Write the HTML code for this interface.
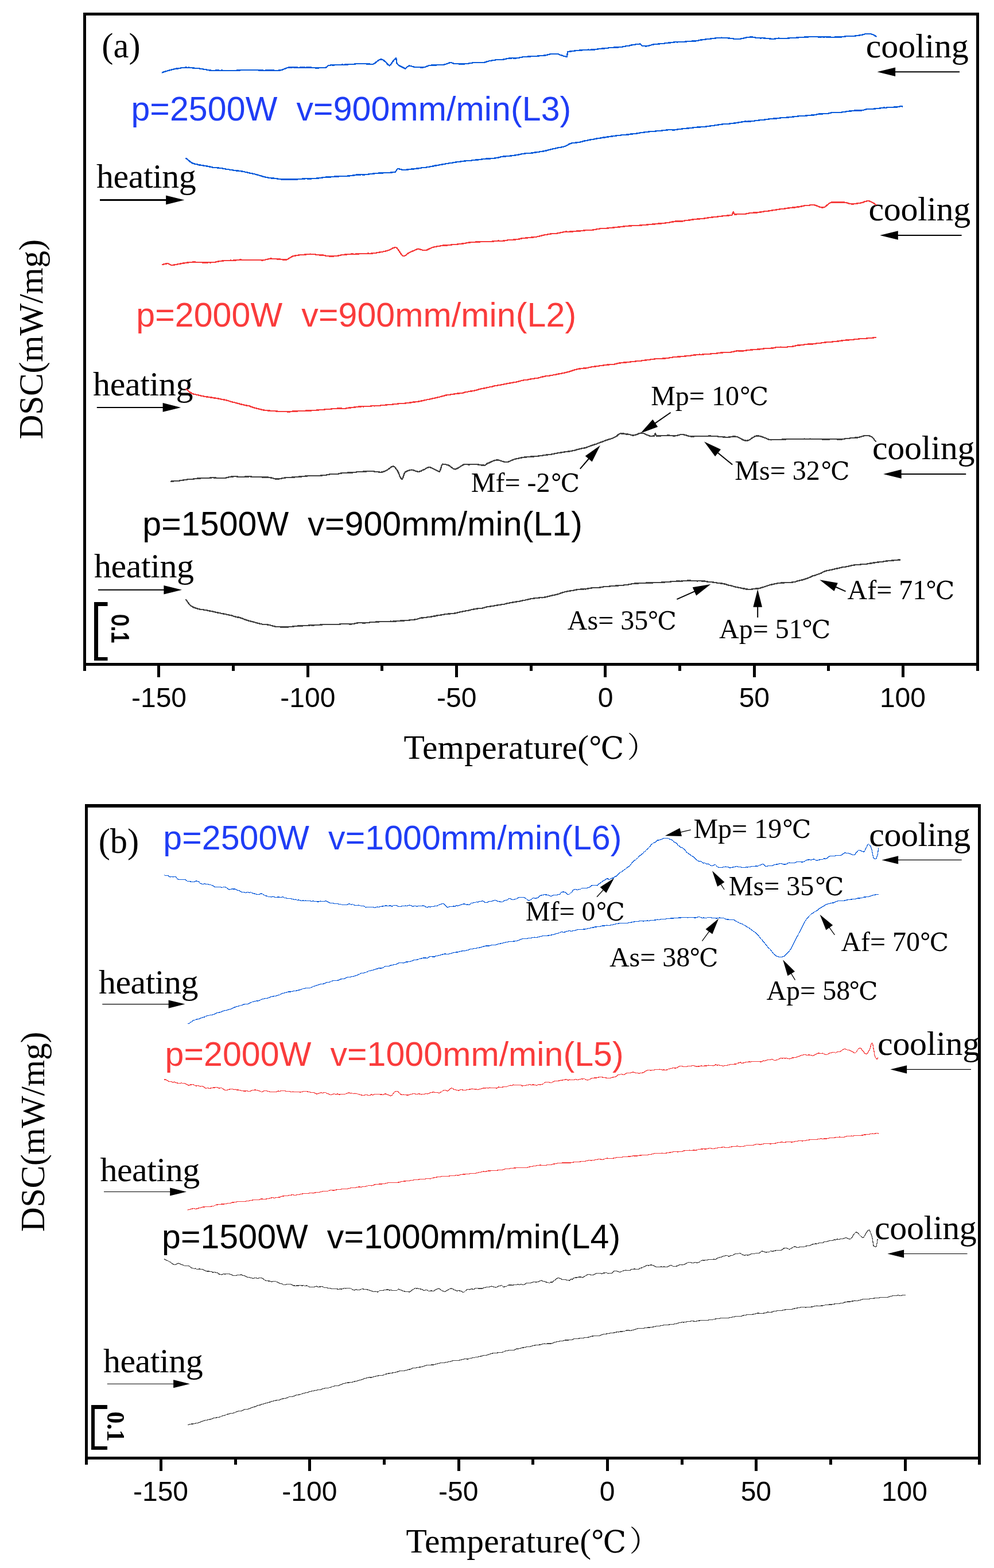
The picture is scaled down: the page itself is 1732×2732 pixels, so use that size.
<!DOCTYPE html>
<html lang="en">
<head>
<meta charset="utf-8">
<title>DSC curves</title>
<style>
html,body{margin:0;padding:0;background:#fff;}
body{width:1732px;height:2732px;overflow:hidden;}
svg{display:block;}
text{white-space:pre;}
</style>
</head>
<body>
<svg width="1732" height="2732" viewBox="0 0 1732 2732" role="img" aria-label="DSC curves">
<rect x="0" y="0" width="1732" height="2732" fill="#ffffff"/>
<path d="M145 22H1706V1160H145ZM150 27V1155H1701V27Z" fill="#000" fill-rule="evenodd"/>
<path d="M145 1159h5v10h-5ZM274 1159h5v21h-5ZM404 1159h5v10h-5ZM534 1159h5v21h-5ZM663 1159h5v10h-5ZM793 1159h5v21h-5ZM923 1159h5v10h-5ZM1052 1159h5v21h-5ZM1182 1159h5v10h-5ZM1312 1159h5v21h-5ZM1441 1159h5v10h-5ZM1571 1159h5v21h-5ZM1701 1159h5v10h-5Z" fill="#000"/>
<path d="M148 1401H1709V2543H148ZM153 1407V2538H1704V1407Z" fill="#000" fill-rule="evenodd"/>
<path d="M148 2542h5v10h-5ZM278 2542h5v21h-5ZM408 2542h5v10h-5ZM537 2542h5v21h-5ZM667 2542h5v10h-5ZM797 2542h5v21h-5ZM926 2542h5v10h-5ZM1056 2542h5v21h-5ZM1186 2542h5v10h-5ZM1315 2542h5v21h-5ZM1445 2542h5v10h-5ZM1575 2542h5v21h-5ZM1704 2542h5v10h-5Z" fill="#000"/>
<text fill="#000000" xml:space="preserve"><tspan x="177.31" y="100.1" style='font-family:"Liberation Serif", "Noto Serif CJK SC", serif;font-size:60.5px;letter-spacing:0.16px'>(a)</tspan></text>
<text fill="#1f3df5" xml:space="preserve"><tspan x="228.41" y="209.8" style='font-family:"Liberation Sans", "Noto Sans CJK SC", sans-serif;font-size:59px;letter-spacing:0.12px'>p=2500W  v=900mm/min(L3)</tspan></text>
<text fill="#fa3b3b" xml:space="preserve"><tspan x="237.21" y="569.4" style='font-family:"Liberation Sans", "Noto Sans CJK SC", sans-serif;font-size:59px;letter-spacing:0.12px'>p=2000W  v=900mm/min(L2)</tspan></text>
<text fill="#000000" xml:space="preserve"><tspan x="248.31" y="933.3" style='font-family:"Liberation Sans", "Noto Sans CJK SC", sans-serif;font-size:59px;letter-spacing:0.11px'>p=1500W  v=900mm/min(L1)</tspan></text>
<text fill="#000000" xml:space="preserve"><tspan x="168" y="327.1" style='font-family:"Liberation Serif", "Noto Serif CJK SC", serif;font-size:60px;letter-spacing:-0.46px'>heating</tspan></text>
<text fill="#000000" xml:space="preserve"><tspan x="162" y="689.1" style='font-family:"Liberation Serif", "Noto Serif CJK SC", serif;font-size:60px;letter-spacing:-0.36px'>heating</tspan></text>
<text fill="#000000" xml:space="preserve"><tspan x="163.9" y="1006.3" style='font-family:"Liberation Serif", "Noto Serif CJK SC", serif;font-size:60px;letter-spacing:-0.41px'>heating</tspan></text>
<text fill="#000000" xml:space="preserve"><tspan x="1508.83" y="100.3" style='font-family:"Liberation Serif", "Noto Serif CJK SC", serif;font-size:60px;letter-spacing:-0.16px'>cooling</tspan></text>
<text fill="#000000" xml:space="preserve"><tspan x="1513.53" y="384.4" style='font-family:"Liberation Serif", "Noto Serif CJK SC", serif;font-size:60px;letter-spacing:-0.38px'>cooling</tspan></text>
<text fill="#000000" xml:space="preserve"><tspan x="1519.92" y="800.4" style='font-family:"Liberation Serif", "Noto Serif CJK SC", serif;font-size:60px;letter-spacing:-0.23px'>cooling</tspan></text>
<text fill="#000000" xml:space="preserve"><tspan x="1134.15" y="706.2" style='font-family:"Liberation Serif", "Noto Serif CJK SC", serif;font-size:48px'>Mp= 10</tspan><tspan x="1288.06" y="706.2" style='font-family:"Liberation Serif", "DejaVu Math TeX Gyre", "DejaVu Serif", "Noto Serif CJK SC", serif;font-size:43.68px'>℃</tspan></text>
<text fill="#000000" xml:space="preserve"><tspan x="1280.35" y="835.8" style='font-family:"Liberation Serif", "Noto Serif CJK SC", serif;font-size:48px'>Ms= 32</tspan><tspan x="1429.46" y="835.8" style='font-family:"Liberation Serif", "DejaVu Math TeX Gyre", "DejaVu Serif", "Noto Serif CJK SC", serif;font-size:43.68px'>℃</tspan></text>
<text fill="#000000" xml:space="preserve"><tspan x="820.85" y="856.9" style='font-family:"Liberation Serif", "Noto Serif CJK SC", serif;font-size:48px'>Mf= -2</tspan><tspan x="959.06" y="856.9" style='font-family:"Liberation Serif", "DejaVu Math TeX Gyre", "DejaVu Serif", "Noto Serif CJK SC", serif;font-size:43.68px'>℃</tspan></text>
<text fill="#000000" xml:space="preserve"><tspan x="988.8" y="1097.2" style='font-family:"Liberation Serif", "Noto Serif CJK SC", serif;font-size:48px'>As= 35</tspan><tspan x="1127.66" y="1097.2" style='font-family:"Liberation Serif", "DejaVu Math TeX Gyre", "DejaVu Serif", "Noto Serif CJK SC", serif;font-size:43.68px'>℃</tspan></text>
<text fill="#000000" xml:space="preserve"><tspan x="1253.1" y="1111.8" style='font-family:"Liberation Serif", "Noto Serif CJK SC", serif;font-size:48px'>Ap= 51</tspan><tspan x="1396.26" y="1111.8" style='font-family:"Liberation Serif", "DejaVu Math TeX Gyre", "DejaVu Serif", "Noto Serif CJK SC", serif;font-size:43.68px'>℃</tspan></text>
<text fill="#000000" xml:space="preserve"><tspan x="1476.6" y="1044" style='font-family:"Liberation Serif", "Noto Serif CJK SC", serif;font-size:48px'>Af= 71</tspan><tspan x="1612.36" y="1044" style='font-family:"Liberation Serif", "DejaVu Math TeX Gyre", "DejaVu Serif", "Noto Serif CJK SC", serif;font-size:43.68px'>℃</tspan></text>
<text fill="#000000" xml:space="preserve"><tspan x="703.47" y="1322" style='font-family:"Liberation Serif", "Noto Serif CJK SC", serif;font-size:59.5px;letter-spacing:0.27px'>Temperature(</tspan><tspan x="1024.83" y="1322" style='font-family:"Liberation Serif", "DejaVu Math TeX Gyre", "DejaVu Serif", "Noto Serif CJK SC", serif;font-size:53.4px'>℃</tspan><tspan x="1092.74" y="1318.7" style='font-family:"Noto Serif CJK SC", "Liberation Serif", serif;font-size:50.5px'>）</tspan></text>
<text fill="#000000" xml:space="preserve"><tspan x="171.81" y="1485.8" style='font-family:"Liberation Serif", "Noto Serif CJK SC", serif;font-size:60.5px;letter-spacing:-0.13px'>(b)</tspan></text>
<text fill="#1f3df5" xml:space="preserve"><tspan x="284.31" y="1480.2" style='font-family:"Liberation Sans", "Noto Sans CJK SC", sans-serif;font-size:59px;letter-spacing:0.09px'>p=2500W  v=1000mm/min(L6)</tspan></text>
<text fill="#fa3b3b" xml:space="preserve"><tspan x="287.61" y="1856.5" style='font-family:"Liberation Sans", "Noto Sans CJK SC", sans-serif;font-size:59px;letter-spacing:0.09px'>p=2000W  v=1000mm/min(L5)</tspan></text>
<text fill="#000000" xml:space="preserve"><tspan x="282.01" y="2174.8" style='font-family:"Liberation Sans", "Noto Sans CJK SC", sans-serif;font-size:59px;letter-spacing:0.09px'>p=1500W  v=1000mm/min(L4)</tspan></text>
<text fill="#000000" xml:space="preserve"><tspan x="171.9" y="1731" style='font-family:"Liberation Serif", "Noto Serif CJK SC", serif;font-size:60px;letter-spacing:-0.49px'>heating</tspan></text>
<text fill="#000000" xml:space="preserve"><tspan x="174.4" y="2057.8" style='font-family:"Liberation Serif", "Noto Serif CJK SC", serif;font-size:60px;letter-spacing:-0.46px'>heating</tspan></text>
<text fill="#000000" xml:space="preserve"><tspan x="179.9" y="2391.4" style='font-family:"Liberation Serif", "Noto Serif CJK SC", serif;font-size:60px;letter-spacing:-0.46px'>heating</tspan></text>
<text fill="#000000" xml:space="preserve"><tspan x="1514.33" y="1473.6" style='font-family:"Liberation Serif", "Noto Serif CJK SC", serif;font-size:60px;letter-spacing:-0.49px'>cooling</tspan></text>
<text fill="#000000" xml:space="preserve"><tspan x="1529.12" y="1837.7" style='font-family:"Liberation Serif", "Noto Serif CJK SC", serif;font-size:60px;letter-spacing:-0.31px'>cooling</tspan></text>
<text fill="#000000" xml:space="preserve"><tspan x="1524.12" y="2159.2" style='font-family:"Liberation Serif", "Noto Serif CJK SC", serif;font-size:60px;letter-spacing:-0.38px'>cooling</tspan></text>
<text fill="#000000" xml:space="preserve"><tspan x="1208.45" y="1459.9" style='font-family:"Liberation Serif", "Noto Serif CJK SC", serif;font-size:48px'>Mp= 19</tspan><tspan x="1362.26" y="1459.9" style='font-family:"Liberation Serif", "DejaVu Math TeX Gyre", "DejaVu Serif", "Noto Serif CJK SC", serif;font-size:43.68px'>℃</tspan></text>
<text fill="#000000" xml:space="preserve"><tspan x="1269.85" y="1559.5" style='font-family:"Liberation Serif", "Noto Serif CJK SC", serif;font-size:48px'>Ms= 35</tspan><tspan x="1419.26" y="1559.5" style='font-family:"Liberation Serif", "DejaVu Math TeX Gyre", "DejaVu Serif", "Noto Serif CJK SC", serif;font-size:43.68px'>℃</tspan></text>
<text fill="#000000" xml:space="preserve"><tspan x="915.75" y="1603.7" style='font-family:"Liberation Serif", "Noto Serif CJK SC", serif;font-size:48px'>Mf= 0</tspan><tspan x="1037.66" y="1603.7" style='font-family:"Liberation Serif", "DejaVu Math TeX Gyre", "DejaVu Serif", "Noto Serif CJK SC", serif;font-size:43.68px'>℃</tspan></text>
<text fill="#000000" xml:space="preserve"><tspan x="1061.9" y="1683.8" style='font-family:"Liberation Serif", "Noto Serif CJK SC", serif;font-size:48px'>As= 38</tspan><tspan x="1200.46" y="1683.8" style='font-family:"Liberation Serif", "DejaVu Math TeX Gyre", "DejaVu Serif", "Noto Serif CJK SC", serif;font-size:43.68px'>℃</tspan></text>
<text fill="#000000" xml:space="preserve"><tspan x="1335.4" y="1741.7" style='font-family:"Liberation Serif", "Noto Serif CJK SC", serif;font-size:48px'>Ap= 58</tspan><tspan x="1478.56" y="1741.7" style='font-family:"Liberation Serif", "DejaVu Math TeX Gyre", "DejaVu Serif", "Noto Serif CJK SC", serif;font-size:43.68px'>℃</tspan></text>
<text fill="#000000" xml:space="preserve"><tspan x="1465.4" y="1656.5" style='font-family:"Liberation Serif", "Noto Serif CJK SC", serif;font-size:48px'>Af= 70</tspan><tspan x="1601.96" y="1656.5" style='font-family:"Liberation Serif", "DejaVu Math TeX Gyre", "DejaVu Serif", "Noto Serif CJK SC", serif;font-size:43.68px'>℃</tspan></text>
<text fill="#000000" xml:space="preserve"><tspan x="707.47" y="2705.3" style='font-family:"Liberation Serif", "Noto Serif CJK SC", serif;font-size:59.5px;letter-spacing:0.27px'>Temperature(</tspan><tspan x="1028.83" y="2705.3" style='font-family:"Liberation Serif", "DejaVu Math TeX Gyre", "DejaVu Serif", "Noto Serif CJK SC", serif;font-size:53.4px'>℃</tspan><tspan x="1096.74" y="2702" style='font-family:"Noto Serif CJK SC", "Liberation Serif", serif;font-size:50.5px'>）</tspan></text>
<text fill="#000" xml:space="preserve"><tspan x="228.98" y="1231.5" style='font-family:"Liberation Sans", "Noto Sans CJK SC", sans-serif;font-size:48px'>-150</tspan></text>
<text fill="#000" xml:space="preserve"><tspan x="488.31" y="1231.5" style='font-family:"Liberation Sans", "Noto Sans CJK SC", sans-serif;font-size:48px'>-100</tspan></text>
<text fill="#000" xml:space="preserve"><tspan x="760.99" y="1231.5" style='font-family:"Liberation Sans", "Noto Sans CJK SC", sans-serif;font-size:48px'>-50</tspan></text>
<text fill="#000" xml:space="preserve"><tspan x="1041.67" y="1231.5" style='font-family:"Liberation Sans", "Noto Sans CJK SC", sans-serif;font-size:48px'>0</tspan></text>
<text fill="#000" xml:space="preserve"><tspan x="1287.65" y="1231.5" style='font-family:"Liberation Sans", "Noto Sans CJK SC", sans-serif;font-size:48px'>50</tspan></text>
<text fill="#000" xml:space="preserve"><tspan x="1532.89" y="1231.5" style='font-family:"Liberation Sans", "Noto Sans CJK SC", sans-serif;font-size:48px'>100</tspan></text>
<text fill="#000" xml:space="preserve"><tspan x="231.98" y="2614.5" style='font-family:"Liberation Sans", "Noto Sans CJK SC", sans-serif;font-size:48px'>-150</tspan></text>
<text fill="#000" xml:space="preserve"><tspan x="491.31" y="2614.5" style='font-family:"Liberation Sans", "Noto Sans CJK SC", sans-serif;font-size:48px'>-100</tspan></text>
<text fill="#000" xml:space="preserve"><tspan x="763.99" y="2614.5" style='font-family:"Liberation Sans", "Noto Sans CJK SC", sans-serif;font-size:48px'>-50</tspan></text>
<text fill="#000" xml:space="preserve"><tspan x="1044.67" y="2614.5" style='font-family:"Liberation Sans", "Noto Sans CJK SC", sans-serif;font-size:48px'>0</tspan></text>
<text fill="#000" xml:space="preserve"><tspan x="1290.65" y="2614.5" style='font-family:"Liberation Sans", "Noto Sans CJK SC", sans-serif;font-size:48px'>50</tspan></text>
<text fill="#000" xml:space="preserve"><tspan x="1535.89" y="2614.5" style='font-family:"Liberation Sans", "Noto Sans CJK SC", sans-serif;font-size:48px'>100</tspan></text>
<text transform="translate(73.9 764.7) rotate(-90)" fill="#000" xml:space="preserve"><tspan x="-0.93" y="0" style='font-family:"Liberation Serif", "Noto Serif CJK SC", serif;font-size:59.5px;letter-spacing:-0.2px'>DSC(mW/mg)</tspan></text>
<text transform="translate(77 2145.3) rotate(-90)" fill="#000" xml:space="preserve"><tspan x="-0.93" y="0" style='font-family:"Liberation Serif", "Noto Serif CJK SC", serif;font-size:59.5px;letter-spacing:-0.2px'>DSC(mW/mg)</tspan></text>
<path d="M164 1049H187.5V1056H171V1145H187.5V1151H164Z" fill="#000"/>
<text transform="translate(193.9 1070.9) rotate(90) scale(0.8666 1)" fill="#000" stroke="#000" stroke-width="1.7" xml:space="preserve"><tspan x="-0.45" y="-0.85" style='font-family:"Liberation Sans", "Noto Sans CJK SC", sans-serif;font-size:41.6px;font-weight:normal'>0.1</tspan></text>
<path d="M159 2448H187V2455H165V2520H187V2526H159Z" fill="#000"/>
<text transform="translate(187 2460.8) rotate(90) scale(0.9352 1)" fill="#000" xml:space="preserve"><tspan x="-1.4" y="0" style='font-family:"Liberation Serif", "Noto Serif CJK SC", serif;font-size:44.8px;font-weight:bold'>0.1</tspan></text>
<path d="M174 348.4L290.1 348.4" stroke="#000" stroke-width="3" fill="none"/><path d="M321.4 348.4L289.1 356.4L289.1 340.4Z" fill="#000"/>
<path d="M168.8 709.9L284.6 709.9" stroke="#000" stroke-width="2" fill="none"/><path d="M315.2 709.9L283.6 717.7L283.6 702.1Z" fill="#000"/>
<path d="M170.9 1027.8L286.4 1027.8" stroke="#000" stroke-width="2" fill="none"/><path d="M317 1027.8L285.4 1035.6L285.4 1020Z" fill="#000"/>
<path d="M1672 125.2L1559.1 125.2" stroke="#000" stroke-width="2" fill="none"/><path d="M1528.5 125.2L1560.1 117.4L1560.1 133Z" fill="#000"/>
<path d="M1675.6 410L1563.8 410" stroke="#000" stroke-width="2" fill="none"/><path d="M1533.2 410L1564.8 402.2L1564.8 417.8Z" fill="#000"/>
<path d="M1683.2 825.9L1569.7 825.9" stroke="#000" stroke-width="2" fill="none"/><path d="M1539.1 825.9L1570.7 818.1L1570.7 833.7Z" fill="#000"/>
<path d="M178.3 1749.6L294.6 1749.6" stroke="#000" stroke-width="1.15" fill="none"/><path d="M322.4 1749.6L293.6 1756.7L293.6 1742.5Z" fill="#000"/>
<path d="M181 2076.5L297.2 2076.5" stroke="#000" stroke-width="1.15" fill="none"/><path d="M325 2076.5L296.2 2083.6L296.2 2069.4Z" fill="#000"/>
<path d="M186.8 2411.2L303.1 2411.2" stroke="#000" stroke-width="1.15" fill="none"/><path d="M330.9 2411.2L302.1 2418.3L302.1 2404.1Z" fill="#000"/>
<path d="M1675.7 1498.4L1564.2 1498.4" stroke="#000" stroke-width="1.15" fill="none"/><path d="M1536.4 1498.4L1565.2 1491.3L1565.2 1505.5Z" fill="#000"/>
<path d="M1692 1863.3L1579.1 1863.3" stroke="#000" stroke-width="1.15" fill="none"/><path d="M1551.3 1863.3L1580.1 1856.2L1580.1 1870.4Z" fill="#000"/>
<path d="M1685.5 2184.5L1574.1 2184.5" stroke="#000" stroke-width="1.15" fill="none"/><path d="M1546.3 2184.5L1575.1 2177.4L1575.1 2191.6Z" fill="#000"/>
<path d="M1168.6 718.8L1140.93 737.81" stroke="#000" stroke-width="2" fill="none"/><path d="M1116.2 754.8L1137.33 730.82L1146.17 743.67Z" fill="#000"/>
<path d="M1010.8 816.9L1026.36 798.77" stroke="#000" stroke-width="2" fill="none"/><path d="M1045.9 776L1031.63 804.6L1019.79 794.45Z" fill="#000"/>
<path d="M1276.2 809.6L1250.25 788.45" stroke="#000" stroke-width="2" fill="none"/><path d="M1227 769.5L1255.96 783.04L1246.1 795.13Z" fill="#000"/>
<path d="M1179.4 1044.1L1210.89 1030.09" stroke="#000" stroke-width="2" fill="none"/><path d="M1238.3 1017.9L1213.15 1037.63L1206.81 1023.37Z" fill="#000"/>
<path d="M1320.2 1075.9L1320.2 1056.8" stroke="#000" stroke-width="2" fill="none"/><path d="M1320.2 1026.8L1328 1057.8L1312.4 1057.8Z" fill="#000"/>
<path d="M1473.5 1030.4L1455.71 1022.49" stroke="#000" stroke-width="2" fill="none"/><path d="M1428.3 1010.3L1459.79 1015.77L1453.46 1030.02Z" fill="#000"/>
<path d="M1203.7 1445.8L1185.29 1450.11" stroke="#000" stroke-width="1.3" fill="none"/><path d="M1158.8 1456.3L1184.6 1442.77L1187.92 1456.99Z" fill="#000"/>
<path d="M1262.1 1550L1255.72 1540.08" stroke="#000" stroke-width="1.3" fill="none"/><path d="M1241 1517.2L1262.4 1536.97L1250.12 1544.87Z" fill="#000"/>
<path d="M1040 1562.7L1051.68 1550.01" stroke="#000" stroke-width="1.3" fill="none"/><path d="M1070.1 1530L1056.37 1555.69L1045.63 1545.8Z" fill="#000"/>
<path d="M1223.4 1639.6L1236.04 1622.48" stroke="#000" stroke-width="1.3" fill="none"/><path d="M1252.2 1600.6L1241.32 1627.62L1229.58 1618.95Z" fill="#000"/>
<path d="M1385.5 1707.7L1378.22 1695.61" stroke="#000" stroke-width="1.3" fill="none"/><path d="M1364.2 1672.3L1384.99 1692.7L1372.48 1700.23Z" fill="#000"/>
<path d="M1454.4 1628.8L1444.65 1615.46" stroke="#000" stroke-width="1.3" fill="none"/><path d="M1428.6 1593.5L1451.13 1611.96L1439.35 1620.57Z" fill="#000"/>
<g fill="none" stroke-linejoin="round" stroke-linecap="butt" shape-rendering="crispEdges">
<path d="M281.89 126.58L285.55 125.34L289.22 124.13L292.89 123.16L296.38 122.19L299.87 121.33L303.37 120.45L306.64 119.64L309.91 119.49L313.19 118.99L316.46 118.21L319.74 117.97L323.01 117.53L326.29 117.77L329.56 117.67L332.84 118.1L336.11 118.49L339.38 118.73L342.66 119.12L345.93 119.08L349.21 119.72L352.48 120.25L355.76 120.89L358.9 121.31L362.04 122.17L365.19 122.38L368.33 122.79L371.47 122.93L374.53 122.73L377.59 122.6L380.64 122.53L383.7 122.84L386.75 122.54L389.81 122.98L392.87 123.03L395.92 123L398.98 123.22L402.03 123.1L405.09 123.24L408.15 123.19L411.42 122.8L414.7 122.33L417.97 122.37L421.24 122.07L424.52 121.93L427.79 122.05L431.07 121.99L434.34 122.06L437.62 121.98L440.89 122.13L444.17 122.07L447.44 122.23L450.71 122.33L453.99 122.57L457.26 122.68L460.54 122.76L463.81 122.67L467.09 122.66L470.36 122.64L473.63 122.61L476.91 122.64L480.18 122.92L483.46 122.9L486.73 122.52L489.79 122.15L492.86 121.23L495.92 120.05L498.98 118.77L502.05 117.68L505.11 117.34L508.11 117.36L511.11 117.26L514.11 117.54L517.11 117.59L520.11 117.73L523.11 117.69L526.11 117.49L529.11 117.48L532.11 117.77L535.11 117.5L538.11 117.69L541.11 117.46L544.11 117.87L547.11 117.93L550.11 118.54L553.11 118.63L556.11 118.22L559.11 118.27L562.11 117.89L565.11 117.75L568.11 117.68L571.51 114.3L574.58 113.78L577.64 113.24L580.71 113.53L583.77 113.24L586.84 113.26L589.9 113.21L592.97 113.13L596.03 112.59L599.1 112.83L602.16 112.33L605.19 112.59L608.22 112.19L611.24 112.12L614.27 111.9L617.3 111.72L620.32 111.29L623.35 111.09L626.38 110.71L629.41 110.73L632.81 110.77L636.22 111.23L639.62 111.37L643.03 111.5L646.43 111.94L649.84 111.83L653.24 110.26L656.65 107.16L659.49 105.29L662.32 103.62L665.16 103.4L668.57 105.22L671.97 108.1L674.24 110.59L676.51 113.03L678.78 114.5L681.05 112.31L683.32 108.66L685.6 105.78L687.81 102.96L690.02 101.03L690.59 103.8L691.16 108.18L691.72 110.95L694.79 113.87L697.85 115.44L700.92 116.96L706.03 119.49L709.43 116.69L712.84 114.39L717.1 115.37L721.35 116.62L724.76 117L728.16 117.24L731.57 117.29L734.97 117.49L738.38 117.32L741.78 116.45L745.19 114.92L748.6 113.89L752 113.66L755.41 113.52L758.81 113.62L762.22 113.19L765.62 113.07L769.03 112.95L772.43 112.76L775.84 112.02L779.24 110.89L782.65 109.65L786.05 108.93L789.46 110.62L792.87 110.83L796.27 110.87L799.68 111.41L803.08 111.58L806.49 111.61L809.89 111.32L813.3 111.2L816.7 110.51L820.11 109.98L823.51 109.42L826.92 108.92L830.33 108.93L833.73 108.88L837.14 109.3L840.54 109.06L843.95 108.9L847.35 107.64L850.38 106.82L853.41 105.96L856.43 105.65L859.46 104.89L862.49 104.71L865.51 103.99L868.54 103.82L871.57 103.89L874.6 103.85L877.69 103.47L880.79 102.82L883.88 101.94L886.98 101.66L890.07 101.4L893.17 101.25L896.27 101.47L899.36 101.4L902.46 100.92L905.55 100.43L908.65 99.96L911.75 99.11L914.84 99.1L917.94 98.9L921.03 98.4L924.13 98.42L927.22 97.9L930.32 97.91L933.42 98.21L936.51 97.64L939.61 97.38L942.7 97.11L945.73 96.79L948.76 96.55L951.79 96.13L954.81 95.33L957.84 94.65L960.87 93.94L963.89 93.83L966.92 93.83L969.95 93.94L972.9 94.3L975.85 95.58L978.8 96.51L981.75 97.58L984.7 98.28L987.66 99.21L988.22 96.55L988.79 92.37L989.36 90.02L992.42 89.65L995.49 89.36L998.55 89.01L1001.62 88.51L1004.68 87.9L1007.75 87.82L1010.81 87.59L1013.88 87.43L1016.94 86.85L1020.01 86.94L1024.8 86.68L1027.89 86.77L1030.98 86.59L1034.08 86.71L1037.17 86.18L1040.26 85.66L1043.36 85.26L1046.45 84.97L1049.54 84.42L1052.64 84.39L1055.73 84.11L1058.82 83.7L1061.92 83.18L1065.01 83.09L1068.1 82.83L1071.2 82.39L1074.29 82.56L1077.38 82.44L1080.48 81.73L1083.57 81.73L1086.66 81.19L1089.76 80.66L1092.85 79.96L1096.09 79.76L1099.33 78.74L1102.57 78.1L1105.81 77.86L1109.05 77.11L1112.29 76.82L1115.54 76.63L1118.94 80.22L1122 80.14L1125.06 80.38L1128.13 80.22L1131.19 79.4L1134.25 78.59L1137.31 77.68L1140.38 77.27L1143.44 77.07L1146.5 76.72L1149.56 76.38L1152.66 75.99L1155.75 75.97L1158.84 75.27L1161.94 75.26L1165.03 74.57L1168.12 74.48L1171.22 74.06L1174.31 73.56L1177.4 73.18L1180.5 73.38L1183.59 72.97L1186.68 72.93L1189.78 72.84L1192.87 72.73L1195.96 72.38L1199.06 72.16L1202.15 71.96L1205.24 71.65L1208.34 71.69L1211.43 71.4L1214.52 71.19L1217.62 70.25L1220.67 69.58L1223.73 69.35L1226.78 68.96L1229.83 68.4L1232.89 68.04L1235.94 67.92L1238.99 67.45L1242.05 67.07L1245.1 66.8L1248.16 66.24L1251.21 66.02L1254.26 66.17L1257.32 65.66L1260.47 65.89L1263.62 65.98L1266.77 66.16L1269.92 66.45L1273.07 66.82L1276.22 67.15L1279.37 67.74L1282.52 67.87L1285.67 68.02L1288.91 68.04L1292.15 67.24L1295.39 66.73L1298.64 65.71L1301.88 65.08L1305.12 64.74L1308.36 64.58L1311.74 64.59L1315.11 65.29L1318.49 65.91L1321.87 66.12L1325.25 66.36L1328.62 66.28L1332 66.34L1335.14 66.84L1338.29 67.05L1341.43 67.42L1344.57 67.85L1347.72 67.88L1350.86 67.43L1354 66.9L1357.15 66.64L1360.29 67.1L1363.43 67.21L1366.58 67.24L1369.72 67.03L1372.86 66.51L1376.01 66.3L1379.15 66.21L1382.29 65.85L1385.44 65.81L1388.58 65.55L1391.72 65.41L1394.87 64.85L1398.01 65.1L1401.16 64.7L1404.3 64.41L1407.44 64.39L1410.59 64.18L1413.67 64.15L1416.75 63.86L1419.83 64.1L1422.91 64.11L1425.99 64.43L1429.08 64.66L1432.16 64.19L1435.24 64.66L1438.32 64.22L1441.4 64.58L1444.49 64.38L1447.57 64.67L1450.65 64.94L1453.73 64.74L1456.81 64.53L1459.89 64.62L1462.98 64.71L1466.12 64.37L1469.26 63.82L1472.41 63.58L1475.55 62.89L1478.69 63.02L1481.84 62.89L1484.98 63.22L1488.12 62.86L1491.27 62.4L1494.41 61.93L1497.47 61.59L1500.52 61.06L1503.58 60.36L1506.63 59.44L1509.69 58.86L1512.75 58.77L1516.68 58.94L1520.61 60.17L1523.88 61.79L1527.15 64.18" stroke="#0a5cda" stroke-width="2.4"/>
<path d="M323.32 275.14L326.04 277.37L328.77 279.62L331.49 281.83L334.22 283.7L336.94 284.81L340.14 285.78L343.34 286.38L346.55 287.35L349.75 287.61L352.95 288.16L356.15 288.86L359.35 289.29L362.55 289.93L365.76 290.53L369.03 291.27L372.31 291.96L375.58 292.04L378.85 292.48L382.13 292.69L385.4 293.04L388.68 293.61L391.95 294.37L395.23 294.93L398.5 295.26L401.77 296.13L405.05 296.24L408.32 296.9L411.6 297.37L414.87 297.63L418.15 297.85L421.42 298.47L424.7 299L427.97 299.92L431.24 300.64L434.52 301.36L437.79 302.08L441.07 302.72L444.34 303.46L447.25 304.23L450.16 304.91L453.07 306.09L455.98 306.82L458.89 307.67L461.81 308.54L464.72 309.07L467.63 309.68L470.54 309.99L473.81 310.53L477.09 310.52L480.36 311.18L483.63 311.38L486.91 312.12L490.18 312.37L493.46 312.61L496.73 312.65L499.76 312.7L502.78 312.53L505.81 312.58L508.83 312.71L511.85 312.69L514.88 312.39L517.9 312.56L520.93 311.85L523.95 311.84L526.98 311.6L530 311.32L534.38 311.3L538.77 311.53L541.92 311.54L545.07 310.95L548.22 311.1L551.37 310.63L554.52 310.58L557.67 310.08L560.82 309.62L563.97 309.06L567.13 308.66L570.28 308.51L573.43 308.63L576.58 308.42L579.73 307.79L582.88 307.69L586.03 307.59L589.18 307.38L592.33 307.26L595.48 307.09L598.63 307.12L601.78 306.79L604.93 306.7L608.08 306.56L611.23 306.14L614.39 305.71L617.54 305.33L620.69 304.65L623.84 304.51L626.99 304.48L630.14 304.25L633.29 304.45L636.44 304.3L639.59 304.2L642.74 303.41L645.89 303.09L649.04 302.75L652.19 302.43L655.27 302.05L658.34 301.82L661.41 301.46L664.48 301.66L667.55 301.31L670.63 301.18L673.7 300.74L676.77 300.93L679.84 300.69L682.91 300.47L685.99 300.08L689.06 299.43L691.04 296.42L693.03 293.7L696.71 294.58L700.4 295.67L703.47 295.94L706.54 295.84L709.62 295.46L712.69 295.26L715.76 294.78L718.83 294.33L721.9 294.37L724.97 293.72L728.05 293.38L731.12 293.27L734.19 292.45L737.26 292.03L740.25 291.95L743.23 291.52L746.22 290.92L749.2 290.5L752.19 289.85L755.17 289.39L758.16 288.48L761.14 288.31L764.13 287.69L767.11 287.17L770.1 286.6L773.08 286.05L776.07 285.4L779.05 284.91L782.04 284.63L785.02 283.82L788.01 283.73L790.99 282.97L793.98 282.55L796.98 282.18L799.98 281.8L802.98 281.42L805.98 281.08L808.98 280.64L811.98 280.27L814.98 280.13L817.98 279.98L820.98 279.69L823.99 279.17L826.99 278.91L829.99 278.35L832.99 278.42L835.99 278.03L838.99 277.64L841.99 277.18L844.99 276.84L847.99 276.58L850.99 276.56L854 276.46L857 276.08L860 275.85L863 275.56L866 274.85L868.98 274.5L871.97 273.59L874.95 272.83L877.94 272.5L880.92 272.44L883.91 271.94L886.89 271.95L889.88 271.44L892.86 271.23L895.85 270.74L898.83 270.34L901.82 269.74L904.8 269.42L907.79 268.63L910.77 268.01L913.76 267.59L916.74 267.26L919.73 267.29L922.71 267.01L925.7 266.53L928.68 266.32L931.67 265.61L934.65 265.41L937.64 264.94L940.62 264.36L943.61 263.92L946.59 263.51L949.58 262.77L952.56 262.31L955.55 261.37L958.53 260.7L961.52 259.8L964.5 259.19L967.49 258.59L970.47 258.06L973.46 257.11L976.44 256.85L979.43 256.21L982.26 255.68L985.1 254.58L987.93 253.35L990.77 251.57L993.6 250.26L996.44 249.43L999.49 249.01L1002.55 248.61L1005.6 248.35L1008.65 247.88L1011.71 247.37L1014.76 246.61L1017.82 245.65L1020.87 245.11L1023.92 244.57L1026.98 243.85L1030.03 243.16L1033.08 242.92L1036.14 242.23L1039.12 241.6L1042.11 241.17L1045.09 240.68L1048.08 240.26L1051.06 239.53L1054.05 239.41L1057.03 238.7L1060.02 238.52L1063 238.01L1065.99 237.44L1068.97 237.19L1071.96 236.79L1074.94 236.32L1077.93 235.83L1080.91 235.77L1083.9 235.08L1086.88 235.06L1089.87 234.81L1092.85 234.51L1095.83 234.29L1098.82 233.65L1101.8 233.45L1104.79 232.9L1107.77 232.7L1110.76 232.28L1113.74 231.69L1116.73 231.13L1119.71 230.91L1122.7 230.44L1125.68 229.93L1128.67 229.82L1131.65 229.32L1134.64 229.1L1137.62 229.29L1140.61 228.71L1143.59 228.36L1146.58 228.04L1149.56 227.98L1152.71 227.57L1155.86 227.26L1159.01 226.83L1162.17 226.51L1165.32 226.15L1168.47 226.06L1171.62 226.32L1174.77 226.39L1177.92 226.06L1181.07 225.4L1184.22 224.87L1187.37 224.71L1190.52 224.11L1193.67 223.96L1196.82 223.55L1199.97 223.42L1203.12 222.83L1206.28 222.76L1209.26 222.19L1212.24 222.01L1215.23 221.54L1218.21 221.43L1221.2 221.31L1224.18 221.11L1227.17 220.8L1230.15 220.61L1233.14 220.15L1236.12 219.78L1239.11 219.19L1242.09 219L1245.08 218.44L1248.06 218.04L1251.05 217.62L1254.03 217.13L1257.02 216.69L1260 216.33L1262.99 216.02L1265.97 216.01L1268.96 215.89L1271.94 215.35L1274.93 215.17L1277.91 214.67L1280.9 214.47L1283.88 213.78L1286.87 213.63L1289.85 212.96L1292.84 212.47L1295.82 211.92L1298.81 211.54L1301.79 211.83L1304.78 211.28L1307.76 211.4L1310.75 211.05L1313.73 210.84L1316.72 210.07L1319.7 209.99L1322.85 209.38L1326 209.18L1329.15 209.1L1332.3 208.42L1335.45 208.2L1338.6 207.68L1341.75 207.26L1344.91 207.12L1348.06 206.44L1351.21 206.54L1354.36 206.29L1357.51 205.8L1360.66 205.28L1363.81 205.25L1366.96 204.81L1370.11 204.71L1373.26 204.52L1376.41 204.18L1379.56 203.79L1382.71 203.46L1385.86 202.9L1389.02 202.72L1392.17 202.21L1395.32 202.14L1398.47 201.91L1401.62 201.85L1404.77 201.6L1407.92 201.07L1411.07 201.03L1414.22 200.52L1417.37 200.57L1420.52 200.08L1423.67 199.34L1426.82 198.6L1429.97 198.63L1433.13 198.39L1436.28 198.15L1439.43 198.13L1442.58 197.86L1445.73 197.02L1448.88 196.33L1452.03 196.2L1455.18 195.96L1458.33 195.87L1461.48 196.13L1464.63 196.01L1467.78 195.32L1470.93 194.92L1474.08 194.52L1477.23 193.97L1480.39 193.59L1483.54 193.37L1486.69 192.9L1489.84 192.55L1492.99 192.51L1496.14 192.58L1499.29 192.5L1502.44 192.25L1505.59 191.52L1508.74 190.51L1511.89 190.09L1515.04 189.91L1518.19 189.95L1521.34 189.77L1524.5 189.6L1527.65 189.01L1530.8 188.98L1533.95 188.45L1537.1 187.98L1540.25 187.62L1543.4 187.76L1546.55 187.27L1549.88 187.15L1553.21 186.7L1556.55 186.7L1559.88 186.68L1563.21 186.34L1566.54 185.93L1569.87 185.2L1573.2 185.45" stroke="#0a5cda" stroke-width="2.4"/>
<path d="M281.93 461.21L285.42 460.3L288.92 459.63L292.41 459.1L297.65 461.66L300.64 461.89L303.64 461.42L306.63 461.06L309.62 460.46L312.62 459.75L315.61 459.35L318.61 458.62L321.6 458.36L324.59 457.83L327.59 457.38L330.58 457.18L333.57 456.96L336.57 456.35L339.56 456.45L343.05 456.97L346.55 457L350.04 457.13L353.53 457.46L357.02 457.29L360.52 457.51L363.66 457.2L366.8 457.44L369.95 457.09L373.09 457.02L376.23 456.51L379.38 455.64L382.52 455.26L385.66 454.75L388.81 454.35L391.95 454.15L395.23 454.02L398.5 453.85L401.77 453.64L405.05 453.82L408.32 453.43L411.6 453.38L414.87 452.96L418.15 452.58L421.17 452.71L424.19 452.95L427.21 452.81L430.24 453.07L433.26 453.16L436.28 453.03L439.3 453.12L442.33 453.07L445.35 453.21L448.37 453.05L451.39 453.22L454.42 453.18L457.44 453.53L460.43 453.19L463.43 452.2L466.42 451.61L469.41 450.74L472.41 450.59L475.4 450.81L478.4 450.81L481.45 451.3L484.51 451.51L487.56 451.56L490.62 451.9L493.68 452.53L496.73 452.5L499.88 452.32L503.02 450.53L506.16 448.56L509.31 446.82L512.45 445.77L515.96 445.23L519.47 444.56L522.98 444.22L526.49 444L530 443.69L533.61 443.38L537.22 443.01L540.83 442.67L544.44 443.05L547.53 443.11L550.63 443.63L553.72 444.19L556.81 444.39L559.91 444.57L563 444.57L566.09 445.41L569.19 445.83L572.28 446.11L575.37 446.62L578.47 446.53L581.71 446.32L584.95 446.1L588.19 445.77L591.43 445.2L594.67 444.42L597.91 443.94L601.15 443.65L604.16 443.4L607.16 443.13L610.16 442.78L613.16 442.37L616.16 442.7L619.17 442.75L622.17 442.4L625.17 442.41L628.17 442.15L631.18 442.27L634.18 442.31L637.18 441.98L640.18 441.69L643.19 441.7L646.19 441.71L649.19 441.42L652.19 441.11L655.43 440.58L658.68 440.05L661.92 439.37L665.16 439.15L668.4 438.22L671.64 437.5L674.88 436.68L677.71 435.86L680.55 434.53L683.39 432.74L686.22 431.67L689.06 430.94L691.42 431.98L693.78 434.81L696.15 438.38L698.51 441.97L700.87 445.12L703.24 446.23L706.35 445.26L709.47 442.71L712.59 440.34L715.71 438.8L718.97 437.55L722.23 436.05L725.49 434.63L728.76 433.61L732.54 434.6L736.32 435.81L740.1 436.29L742.93 435.91L745.77 434.68L748.61 433.26L751.44 431.98L754.28 430.91L757.33 430.11L760.38 429.61L763.44 429.13L766.49 428.55L769.55 427.97L772.6 427.51L775.65 427.37L778.71 427.37L781.76 427.15L784.81 426.79L787.87 426.32L790.92 426.11L793.98 426.01L797.13 425.55L800.28 425.15L803.43 424.84L806.58 424.44L809.73 423.94L812.88 423.22L816.03 422.75L819.18 422.45L822.33 422L825.45 422.05L828.57 421.62L831.69 421.65L834.81 421.53L837.93 421.21L841.05 421.32L844.17 420.84L847.28 420.88L850.4 421.12L853.52 420.79L856.64 420.77L859.76 420.48L862.88 420.08L866 419.82L868.98 419.6L871.97 419.97L874.95 419.82L877.94 419.51L880.92 419.23L883.91 418.51L886.89 418.12L889.88 418.01L892.86 417.81L895.85 417.52L898.83 417.36L901.82 417.01L904.8 416.48L907.79 415.59L910.77 415.26L913.76 414.96L916.74 414.54L919.73 414.31L922.71 414.22L925.7 413.49L928.68 413.46L931.67 412.85L934.65 412.8L937.64 411.91L940.62 411.35L943.61 410.65L946.59 409.85L949.58 409.03L952.56 408.79L955.55 408.25L958.53 407.71L961.52 407.14L964.5 407.07L967.49 406.84L970.47 406.67L973.46 405.97L976.44 405.4L979.43 404.86L982.58 404.2L985.73 403.55L988.88 403.78L992.03 403.71L995.18 403.48L998.33 403.32L1001.48 403.25L1004.63 402.7L1007.78 402.35L1010.93 402.4L1014.08 401.97L1017.23 401.54L1020.38 401.3L1023.53 401.08L1026.69 401.31L1029.84 400.93L1032.99 400.64L1036.14 399.97L1039.29 399.42L1042.44 398.98L1045.59 398.28L1048.74 398.09L1051.89 397.97L1055.04 397.82L1058.19 397.61L1061.34 397.26L1064.49 397.2L1067.64 396.62L1070.8 396.29L1073.95 396.08L1077.1 395.5L1080.25 395.39L1083.4 394.74L1086.55 394.68L1089.7 394.08L1092.85 394.06L1096 393.48L1099.15 393.49L1102.3 393.19L1105.45 392.86L1108.6 392.92L1111.75 392.87L1114.9 392.61L1118.06 392.41L1121.21 392.12L1124.36 391.98L1127.51 391.52L1130.66 391.25L1133.81 391.15L1136.96 390.49L1140.11 390.46L1143.26 390.17L1146.41 389.57L1149.56 389.49L1152.55 389.31L1155.53 388.76L1158.52 388.7L1161.5 388.28L1164.49 388.02L1167.47 387.38L1170.46 386.63L1173.44 386.32L1176.43 385.64L1179.41 385.72L1182.4 385.42L1185.38 385.48L1188.37 385.53L1191.35 384.95L1194.34 384.24L1197.32 384.03L1200.31 383.49L1203.29 383.3L1206.28 382.55L1209.26 382.23L1212.24 382.01L1215.23 381.44L1218.21 381.53L1221.2 381.05L1224.18 380.98L1227.17 380.47L1230.15 380.11L1233.14 379.62L1236.12 378.94L1239.11 378.74L1242.09 378.51L1245.08 378L1248.06 377.84L1251.05 377.41L1254.03 376.77L1257.02 376.76L1260 376.24L1262.99 375.93L1266.11 375.71L1269.23 375.42L1272.35 375.23L1275.46 374.7L1277.73 369.19L1280 373.5L1283.06 373.42L1286.11 373.15L1289.16 373.26L1292.22 373.16L1295.27 373.01L1298.32 372.82L1301.38 372.2L1304.43 371.66L1307.49 371.04L1310.54 370.94L1313.59 370.38L1316.65 370.6L1319.7 370.31L1322.78 369.79L1325.85 369.45L1328.93 369L1332 368.21L1334.97 367.83L1337.94 367.79L1340.91 367.4L1343.88 366.66L1346.84 366.26L1349.81 365.87L1352.78 365.5L1355.75 365.01L1358.72 364.51L1361.69 363.97L1364.66 363.89L1367.63 363.41L1370.59 363.09L1373.56 362.52L1376.53 362.27L1379.53 361.76L1382.52 361.35L1385.51 361.37L1388.51 360.65L1391.5 360.59L1394.49 359.75L1397.49 359.46L1400.48 358.68L1403.48 357.87L1406.47 357.76L1409.46 357.79L1412.46 357.2L1415.45 357.18L1418.44 357.09L1421.59 358.07L1424.73 359.21L1427.87 360.37L1431.02 361.33L1434.16 361.55L1436.78 360.99L1439.4 358.99L1442.02 356.78L1444.64 354.63L1447.26 352.93L1449.88 352.43L1452.93 352.48L1455.99 352.51L1459.05 352.46L1462.1 352.62L1465.16 352.65L1468.21 352.55L1471.36 352.64L1474.5 353.22L1477.65 354.04L1480.79 354.95L1483.93 355.44L1487.08 355.41L1490.22 355.02L1493.36 354.55L1496.51 354.11L1499.65 353.63L1502.92 352.96L1506.2 351.52L1509.47 350.57L1512.75 349.95L1516.68 351.07L1520.61 353L1523.88 355.18L1527.15 357.58" stroke="#f53c3c" stroke-width="2.4"/>
<path d="M323.37 677.53L325.99 679.32L328.61 681.63L331.22 683.53L333.84 685.04L336.46 686.44L339.44 686.92L342.42 687.75L345.39 688.44L348.37 689.23L351.35 689.87L354.32 690.38L357.3 691.21L360.28 691.41L363.25 691.7L366.23 692.43L369.21 692.53L372.18 693.34L375.16 693.54L378.14 694.02L381.11 694.65L384.09 695.16L387.07 696.02L390.04 696.38L393.02 697.13L396 697.69L398.97 698.59L401.95 699.62L404.93 700.48L407.9 701L410.88 701.98L413.86 702.74L416.84 703.55L419.81 704.42L422.79 704.9L425.77 705.72L428.74 706.38L431.72 706.89L434.7 707.44L437.67 708.78L440.65 709.61L443.63 710.71L446.6 711.36L449.58 712.06L452.56 712.9L455.53 713.7L458.51 714.45L461.49 714.75L464.46 715.05L467.44 715.46L470.71 715.69L473.99 716.04L477.26 716.06L480.54 716.37L483.81 716.69L487.09 716.82L490.36 716.87L493.63 716.96L496.66 716.94L499.68 717.26L502.7 717.45L505.72 717.36L508.75 716.76L511.77 716.44L514.79 716.38L517.81 716.44L520.84 716.15L523.86 716.1L526.88 716.05L529.9 715.88L532.93 715.57L536.2 715.7L539.48 715.55L542.75 715.35L546.02 714.92L549.3 715.06L552.57 714.54L555.85 714.28L559.12 714.09L562.4 714.06L565.67 713.48L568.95 713.11L572.22 713.04L575.49 712.77L578.77 712.3L582.04 711.83L585.32 711.91L588.59 711.59L591.87 711.69L595.14 711.62L598.42 711.85L601.61 711.71L604.81 711.2L608.01 710.44L611.21 710.41L614.41 710.02L617.61 709.43L620.81 709.26L624.01 708.68L627.2 708.58L630.4 708.23L633.6 708.37L636.8 707.84L640 707.93L643.12 707.88L646.24 707.56L649.36 707.19L652.48 707.31L655.6 707.23L658.72 706.74L661.83 706.8L664.95 706.12L668.07 705.84L671.19 705.7L674.31 705.4L677.43 704.95L680.55 705.11L683.57 704.67L686.6 704.21L689.62 704.06L692.65 703.65L695.67 703.06L698.7 702.81L701.72 702.8L704.75 702.73L707.77 702.32L710.8 701.95L713.82 701.63L716.85 701.44L719.87 700.6L722.9 700.58L725.92 700.03L728.97 699.65L732.03 699.01L735.08 698.39L738.14 697.75L741.19 697.13L744.24 696.27L747.3 695.76L750.35 695.31L753.4 694.51L756.46 693.82L759.51 693.15L762.57 692.43L765.62 691.73L768.64 690.82L771.67 690.23L774.69 689.23L777.72 688.42L780.74 688.06L783.77 687.81L786.79 687.08L789.82 686.74L792.84 686.3L795.87 685.76L798.89 685.42L801.91 685.28L804.94 684.86L807.96 684.28L810.99 683.22L814.05 682.92L817.1 682.02L820.16 681.45L823.21 681.28L826.27 680.67L829.33 680.08L832.38 678.93L835.44 678.16L838.49 677.32L841.55 676.79L844.61 676.31L847.66 675.61L850.72 674.93L853.78 674.2L856.83 673.9L859.89 672.86L862.94 672.02L866 671.84L868.98 671.03L871.97 670.78L874.95 670.15L877.94 669.46L880.92 669.01L883.91 668.32L886.89 667.68L889.88 667.34L892.86 666.68L895.85 666.19L898.83 665.74L901.82 665.09L904.8 664.43L907.79 663.33L910.77 662.93L913.76 662.14L916.74 661.98L919.73 661.58L922.71 660.75L925.67 660.35L928.63 659.92L931.59 659.45L934.55 658.93L937.51 658.62L940.47 657.95L943.42 656.86L946.38 656.35L949.34 655.6L952.3 655.16L955.26 655.01L958.22 654.36L961.18 654.18L964.14 653.29L967.1 652.91L970.06 652.23L973.01 651.62L975.97 651.13L978.93 650.57L981.89 649.91L984.85 649.46L987.81 648.55L990.77 647.83L993.6 646.88L996.44 645.93L999.49 645L1002.55 643.98L1005.6 643.43L1008.65 642.62L1011.71 642.43L1014.76 641.81L1017.82 641.57L1020.87 641.44L1023.92 640.93L1026.98 640.08L1030.03 639.53L1033.08 638.85L1036.14 638.64L1039.12 638.28L1042.11 637.86L1045.09 637.23L1048.08 636.83L1051.06 636.59L1054.05 636.01L1057.03 635.74L1060.02 635.45L1063 635.18L1065.99 634.96L1068.97 634.85L1071.96 634.25L1074.94 633.49L1077.93 632.72L1080.91 632.51L1083.9 632.06L1086.88 631.67L1089.87 631.65L1092.85 631.18L1095.83 630.89L1098.82 630.42L1101.8 630.12L1104.79 629.93L1107.77 629.38L1110.76 629.16L1113.74 628.94L1116.73 628.86L1119.71 628.21L1122.7 627.74L1125.68 627.38L1128.67 627.2L1131.65 626.87L1134.64 626.08L1137.62 625.84L1140.61 625.49L1143.59 625.03L1146.58 624.86L1149.56 624.81L1152.71 624.78L1155.86 624.6L1159.01 624.4L1162.17 624.19L1165.32 623.65L1168.47 623.08L1171.62 622.68L1174.77 621.94L1177.92 621.85L1181.07 621.63L1184.22 621.49L1187.37 621.2L1190.52 620.92L1193.67 620.58L1196.82 620.25L1199.97 619.83L1203.12 619.76L1206.28 619L1209.43 618.54L1212.58 618.4L1215.73 617.9L1218.88 617.68L1222.03 617.76L1225.18 617.59L1228.33 617.17L1231.48 617.27L1234.63 617.01L1237.78 616.6L1240.93 616.13L1244.08 615.89L1247.23 615.9L1250.38 615.43L1253.54 614.98L1256.69 614.5L1259.84 614.32L1262.99 614.19L1266.14 613.95L1269.29 614.18L1272.44 613.84L1275.59 613.09L1278.74 612.59L1281.89 611.82L1285.04 611.26L1288.19 611.49L1291.34 611.47L1294.49 611.53L1297.65 610.86L1300.8 610.46L1303.95 610.02L1307.1 609.78L1310.25 609.34L1313.4 609.28L1316.55 609.12L1319.7 608.59L1322.85 608.66L1326 608.08L1329.15 607.63L1332.3 607.22L1335.45 606.94L1338.6 606.78L1341.75 606.74L1344.91 606.68L1348.06 606.37L1351.21 605.38L1354.36 604.78L1357.51 604.92L1360.66 604.67L1363.81 605.02L1366.96 604.74L1370.11 604.83L1373.26 604.13L1376.41 603.94L1379.4 603.77L1382.38 603.41L1385.37 602.63L1388.35 601.88L1391.34 601.4L1394.32 601.34L1397.31 601.12L1400.29 600.59L1403.28 599.9L1406.26 599.79L1409.25 599.54L1412.23 599.4L1415.22 599.45L1418.2 599.22L1421.19 598.82L1424.17 598.06L1427.16 597.98L1430.14 597.69L1433.13 596.9L1436.28 596.74L1439.43 596.43L1442.58 595.82L1445.73 595.91L1448.88 595.73L1452.03 595.22L1455.18 595.1L1458.33 594.66L1461.48 594.34L1464.63 593.73L1467.78 593.46L1470.93 593.05L1474.08 592.52L1477.23 592.52L1480.39 592.23L1483.54 591.78L1486.69 591.73L1489.84 591.14L1492.91 591.15L1495.98 590.52L1499.05 590.15L1502.13 589.73L1505.2 589.7L1508.27 589.76L1511.34 589.32L1514.41 589.08L1517.48 589.02L1520.56 588.67L1523.63 588.13L1526.7 587.54" stroke="#f53c3c" stroke-width="2.4"/>
<path d="M297.17 838.82L300.19 838.58L303.22 838.33L306.24 837.93L309.26 838.06L312.28 837.67L315.31 837.15L318.33 836.62L321.35 836.26L324.37 835.91L327.4 835.26L330.42 835.04L333.44 834.9L336.46 834.7L339.74 834.08L343.01 833.72L346.29 833.34L349.56 833.32L352.84 832.91L356.11 833.04L359.38 832.92L362.66 832.84L365.93 832.67L369.21 832.25L372.48 832.31L375.76 832.48L379.03 832.99L382.31 833.1L385.58 833.25L388.85 833.19L392.13 833.04L395.4 832.12L398.68 831.3L401.95 830.74L405.23 830.37L408.5 830.24L411.77 830.31L415.05 830.79L418.32 831L421.6 830.93L424.87 830.8L428.15 830.38L431.42 830.53L434.7 830.17L437.97 830.63L441.24 830.95L444.52 831.16L447.79 831.24L451.07 831.06L454.34 831.23L457.62 831.43L460.89 831.56L464.17 831.48L467.44 831.66L470.71 832.18L473.99 832.72L477.26 833.77L480.54 834.55L483.81 834.64L487.09 834.36L490.36 833.7L493.63 832.92L496.91 832.55L500.18 831.92L503.46 831.88L506.73 831.87L510.01 831.33L513.28 831.36L516.56 831.13L519.83 830.68L523.1 830.49L526.38 830.31L529.65 829.83L532.93 829.57L536.2 829.25L539.48 829.07L542.75 828.7L546.02 829.16L549.3 828.93L552.57 828.96L555.85 829L559.12 828.57L562.4 828.21L565.67 828.09L568.95 827.58L572.22 826.79L575.49 826.21L578.77 825.94L582.04 825.97L585.32 825.98L588.59 825.77L591.87 825.08L595.14 824.35L598.42 823.86L601.61 823.95L604.81 823.69L608.01 823.58L611.21 823.73L614.41 823.41L617.61 822.96L620.81 822.58L624.01 822L627.2 822.04L630.4 821.93L633.6 821.58L636.8 821.38L640 821.27L643.26 820.94L646.52 821.01L649.93 821.09L653.33 821.77L656.73 822.03L660.13 822.51L663.54 822.86L666.37 822.38L669.21 821.41L672.04 820.14L674.88 818.88L677.43 817.08L679.98 815L682.54 813.24L685.09 812.38L687.36 813.25L689.62 816.09L691.89 818.94L693.31 821.71L694.73 824.58L696.15 828.44L697.56 831.41L698.98 833.99L700.4 835.06L701.82 833.22L703.24 829.08L704.65 824.48L706.07 822.47L709.85 820.62L713.63 819.25L717.41 818.69L721.19 819.44L724.97 821.02L728.76 821.92L733.01 820.94L737.26 818.73L740.1 817.59L742.93 815.67L745.77 814.58L748.61 814.08L751.44 814.92L754.28 816.48L757.11 817.9L759.95 819.31L762.78 820.75L765.62 821.93L767.04 819.52L768.45 814.9L769.87 810.57L771.29 808.66L775.65 809.02L780 810.16L783.27 811.56L786.55 814.06L789.82 816.74L793.1 817.55L795.9 816.64L798.71 815.17L801.52 813.38L804.32 811.42L807.13 809.8L809.94 808.99L812.74 808.95L816.02 809.36L819.29 809.31L822.57 808.93L825.84 808.92L829.12 809.11L832.39 809.33L835.66 809.9L838.94 810.38L842.21 810.52L845.49 810.81L848.76 807.6L852.04 806.51L855.31 804.8L858.59 803.58L861.86 802.18L865.13 801.59L868.41 801.61L871.68 802.49L874.96 803.69L878.23 804.67L881.51 805.26L884.78 804.86L888.06 803.68L891.33 802.19L894.6 800.9L897.88 799.73L901.15 798.94L904.19 798.46L907.23 797.71L910.27 797.2L913.31 796.65L916.36 796.65L919.4 795.97L922.44 795.99L925.48 795.57L928.52 795.63L931.56 795.18L934.6 794.97L937.64 794.69L940.68 794.17L943.72 794.07L946.7 793.29L949.67 792.86L952.65 792.47L955.63 792.24L958.6 791.89L961.58 791.4L964.56 790.76L967.53 790.19L970.51 789.63L973.49 789.11L976.46 788.71L979.44 788.14L982.42 787.72L985.39 787.15L988.37 786.73L991.35 786.46L994.32 786.06L997.3 785.46L1000.28 785.01L1003.25 784.08L1006.23 783.16L1009.21 782.38L1012.18 781.75L1015.16 781.13L1018.14 780.58L1021.11 779.96L1024.09 778.65L1027.07 777.83L1030.04 776.51L1033.02 775.47L1036 774.47L1038.97 773.69L1041.95 772.32L1044.93 771.41L1047.9 770.1L1050.88 769.32L1053.86 767.94L1056.84 767.06L1059.81 765.86L1062.79 765L1065.77 764.2L1068.74 762.91L1071.72 761.37L1074.7 759.73L1077.97 756.68L1081.24 755.23L1084.52 755.45L1087.79 755.72L1091.07 756.42L1094.34 756.58L1097.62 757.23L1100.89 758.33L1104.17 758.49L1107.44 757.72L1110.71 756.61L1113.99 755.16L1117.26 754.58L1120.54 754.88L1123.81 756.07L1127.09 757.72L1130.36 758.86L1133.63 759.97L1136.91 759.71L1140.18 759.56L1141.82 755.41L1144.11 759.54L1147.31 759.36L1150.52 759.34L1153.72 759.26L1156.92 759.01L1160.12 759.01L1163.32 758.58L1166.52 758.65L1169.73 758.9L1172.93 759.48L1176.2 759.47L1179.48 758.96L1182.75 758.07L1186.02 757.11L1189.3 757.03L1192.57 757.48L1195.85 758.53L1199.12 759.56L1202.4 760.26L1205.67 760.55L1208.96 760.38L1212.25 759.95L1215.54 759.96L1218.84 760.03L1222.13 760.26L1225.42 760.09L1228.71 759.84L1232 759.8L1235.27 759.62L1238.55 759.65L1241.82 759.92L1245.1 760.05L1248.37 760.13L1251.65 760.59L1254.92 761.14L1258.2 761.22L1261.47 761.68L1264.74 761.73L1268.02 761.77L1271.29 761.58L1274.57 760.89L1277.84 760.58L1281.12 760.63L1284.39 761L1287.66 762.55L1290.94 764.34L1294.21 766.28L1297.49 767.29L1300.76 767.8L1303.76 767.36L1306.77 765.87L1309.77 763.58L1312.77 761.83L1315.77 760.12L1318.77 759.45L1321.84 759.56L1324.91 760.09L1327.98 761.08L1331.05 762.41L1334.12 763.3L1337.19 764.79L1340.26 766.05L1343.33 766.34L1346.41 766.22L1349.49 766.23L1352.57 765.98L1355.66 765.9L1358.74 765.7L1361.82 765.73L1364.9 765.32L1367.98 765.57L1371.07 765.15L1374.15 765.28L1377.23 765.3L1380.31 765.26L1383.39 765.15L1386.47 765.15L1389.56 765.04L1392.64 765.22L1395.72 764.96L1398.79 764.94L1401.86 764.66L1404.93 764.96L1408 765.03L1411.07 764.68L1414.14 764.75L1417.21 765L1420.28 764.88L1423.35 765.06L1426.42 764.87L1429.49 765.02L1432.56 765.32L1435.63 765.67L1438.7 765.7L1441.77 765.57L1444.84 765.42L1447.91 765.16L1450.98 765.18L1454.04 764.88L1457.11 765.17L1460.18 765.56L1463.25 765.39L1466.32 765.47L1469.39 765.03L1472.46 764.43L1475.53 763.95L1478.6 763.97L1481.67 763.36L1484.74 763.05L1487.81 762.94L1490.88 762.35L1493.95 762.57L1497.23 761.63L1500.5 760.88L1503.77 759.78L1507.05 759.07L1510.32 759.17L1513.6 759.25L1516.87 760.06L1519.33 761.58L1521.78 763.86L1524.24 767.21L1526.7 769.29" stroke="#424242" stroke-width="2.4"/>
<path d="M323.67 1044.1L325.5 1046.74L327.33 1049.53L329.17 1051.98L331 1054.15L332.84 1055.75L336.11 1057.59L339.38 1059.05L342.66 1059.97L345.93 1061.06L349.01 1061.83L352.1 1062.11L355.18 1062.4L358.26 1063.23L361.34 1063.37L364.42 1064.44L367.51 1064.76L370.59 1065.5L373.67 1066.18L376.75 1066.87L379.83 1067.61L382.91 1068.1L386 1068.91L389.08 1069.55L392.16 1069.82L395.24 1070.77L398.32 1071.4L401.3 1071.89L404.28 1072.67L407.25 1073.84L410.23 1074.6L413.21 1075.36L416.18 1075.63L419.16 1076.62L422.14 1077.58L425.11 1078.77L428.09 1080L431.07 1080.86L434.04 1081.84L437.02 1082.48L440 1083.36L442.97 1083.84L445.95 1084.99L448.93 1085.63L451.9 1086.49L454.88 1087.05L457.86 1087.93L460.83 1088.22L463.81 1088.22L467.09 1088.53L470.36 1089.13L473.63 1090.24L476.91 1091.09L480.18 1091.84L483.46 1091.94L486.73 1092.28L490.01 1092.35L493.28 1092.42L496.56 1092.45L499.83 1092.68L503.1 1092.33L506.38 1092.14L509.65 1091.65L512.93 1091.31L516.2 1091.08L519.48 1090.43L522.75 1090.47L526.02 1090.49L529.3 1090.18L532.37 1090.19L535.44 1089.91L538.51 1089.58L541.58 1089.26L544.65 1089.62L547.72 1089.29L550.79 1089.24L553.86 1089.03L556.93 1088.71L560 1088.56L563.07 1088.2L566.14 1087.97L569.21 1087.84L572.28 1088.04L575.35 1087.88L578.42 1087.75L581.61 1087.71L584.81 1088.11L588.01 1087.95L591.21 1087.75L594.41 1087.3L597.61 1087.08L600.81 1087.2L604.01 1087.31L607.2 1087.21L610.4 1087.68L613.6 1087.21L616.8 1086.95L620 1086.06L623.84 1085.23L626.99 1085.06L630.14 1085.3L633.29 1085.4L636.44 1085.35L639.59 1084.93L642.74 1084.73L645.89 1084.17L649.04 1084.32L652.19 1083.84L655.34 1083.66L658.5 1083.49L661.65 1083.27L664.8 1083.17L667.95 1083.24L671.1 1083.15L674.25 1083.07L677.4 1082.88L680.55 1082.64L683.6 1082.75L686.66 1082.29L689.71 1082.43L692.77 1081.98L695.82 1081.8L698.87 1081.5L701.93 1081.38L704.98 1081.31L708.03 1080.79L711.09 1080.92L714.14 1080.38L717.2 1080.13L720.25 1079.8L723.65 1079.45L727.05 1078.75L730.46 1077.44L733.86 1076.64L737.26 1076.5L740.25 1075.94L743.23 1075.76L746.22 1075.12L749.2 1074.92L752.19 1074.41L755.17 1073.67L758.16 1073.38L761.14 1072.4L764.13 1072.18L767.11 1071.72L770.1 1071.26L773.08 1070.61L776.07 1070.08L779.05 1069.85L782.04 1069.53L785.02 1069.29L788.01 1069.1L790.99 1068.79L793.98 1068.24L796.98 1067.58L799.98 1066.65L802.98 1066.15L805.98 1065.48L808.98 1065L811.98 1064.37L814.98 1063.84L817.98 1063.24L820.98 1062.36L823.99 1061.79L826.99 1061.29L829.99 1060.66L832.99 1060.25L835.99 1059.92L838.99 1059.92L841.99 1059.28L844.99 1058.4L847.99 1057.36L850.99 1057.11L854 1056.6L857 1056.2L860 1055.83L863 1055.02L866 1054.55L868.98 1054.23L871.97 1053.71L874.95 1053.17L877.94 1053.02L880.92 1051.98L883.91 1051.29L886.89 1050.87L889.88 1050.01L892.86 1049.67L895.85 1049.08L898.83 1048.63L901.82 1048.19L904.8 1047.73L907.79 1046.92L910.77 1046.39L913.76 1045.99L916.74 1045.21L919.73 1044.52L922.71 1043.89L925.82 1043.13L928.93 1042.77L932.03 1042.35L935.14 1041.88L938.25 1041.67L941.36 1041.18L944.46 1041.32L947.57 1040.81L950.68 1040.34L953.79 1039.52L956.89 1038.68L960 1038.02L963 1037.27L966 1036.9L969 1036.01L972.01 1035.18L975.01 1034.34L978.01 1033.22L981.01 1032.25L984.01 1031.37L987.01 1030.71L990.02 1029.91L993.02 1029.57L996.02 1029.12L999.13 1028.85L1002.24 1027.9L1005.35 1027.41L1008.46 1027.05L1011.57 1026.65L1014.68 1026.7L1017.79 1026.27L1020.9 1026.36L1024.01 1025.56L1027.13 1025.09L1030.24 1024.34L1033.35 1024.29L1036.46 1024.18L1039.57 1024.16L1042.68 1024.05L1045.79 1023.46L1048.9 1023.01L1052.01 1022.32L1055.12 1022.19L1058.23 1021.9L1061.35 1021.72L1064.47 1021.19L1067.59 1020.86L1070.71 1020.83L1073.82 1020.44L1076.94 1020.4L1080.06 1020.15L1083.18 1019.92L1086.3 1019.65L1089.42 1019.05L1092.54 1018.98L1095.65 1018.42L1098.77 1017.9L1101.89 1017.1L1105.01 1016.72L1108.13 1016.55L1111.25 1016.45L1114.36 1016.22L1117.48 1016.06L1120.6 1016.05L1123.72 1016.02L1126.79 1015.48L1129.86 1015.6L1132.93 1015.56L1136 1015.63L1139.07 1015.11L1142.14 1015.23L1145.21 1014.99L1148.28 1014.95L1151.35 1014.79L1154.42 1014.52L1157.49 1014.39L1160.56 1014.2L1163.63 1014.15L1166.7 1013.86L1169.77 1013.33L1172.84 1012.77L1176.11 1012.91L1179.38 1012.56L1182.66 1012.49L1185.93 1012.77L1189.21 1012.35L1192.48 1012.08L1195.76 1011.76L1199.03 1011.65L1202.31 1011.58L1205.58 1011.95L1208.85 1012.2L1212.13 1012.25L1215.4 1012.39L1218.68 1012.01L1221.95 1012.33L1225.23 1012.35L1228.5 1012.55L1231.77 1013.46L1235.05 1013.78L1238.32 1014.01L1241.6 1014.38L1244.87 1014.81L1248.15 1015.38L1251.42 1015.85L1254.7 1016.2L1257.97 1016.6L1261.24 1017.32L1264.52 1017.85L1267.79 1019.2L1271.07 1019.94L1274.34 1020.54L1277.62 1021.58L1280.89 1022.45L1284.17 1023.15L1287.44 1023.92L1290.71 1024.48L1293.99 1025.24L1297.26 1025.67L1300.54 1026.56L1303.81 1026.76L1307.09 1026.8L1310.36 1026.65L1313.63 1026.06L1316.91 1025.66L1320.18 1025.63L1323.46 1025L1326.73 1023.96L1330.01 1022.99L1333.28 1021.95L1336.56 1020.92L1339.83 1019.7L1343.1 1018.78L1346.38 1018.14L1349.65 1017.41L1352.93 1016.76L1356.2 1016.14L1359.48 1015.77L1362.75 1015.42L1366.02 1015.41L1369.3 1015.02L1372.57 1015.05L1375.85 1014.91L1379.12 1014.77L1382.4 1014.13L1385.67 1013.8L1388.95 1012.63L1392.22 1011.66L1395.49 1010.81L1398.77 1010.28L1402.04 1009.17L1405.32 1008.21L1408.12 1007.07L1410.93 1006.06L1413.74 1004.54L1416.54 1003.33L1419.35 1002.72L1422.16 1001.61L1424.96 1000.64L1427.92 999.72L1430.87 998.51L1433.83 996.92L1436.78 995.55L1439.84 994.55L1442.89 993.98L1445.95 993.37L1449.01 992.68L1452.06 992.1L1455.12 991.13L1458.17 990.61L1461.23 989.95L1464.29 989.14L1467.34 988.37L1470.4 987.85L1473.45 987.74L1476.45 987.01L1479.44 986.41L1482.44 985.71L1485.43 984.98L1488.42 984.5L1491.42 984.15L1494.41 984.11L1497.4 983.75L1500.4 983.42L1503.39 982.97L1506.38 982.92L1509.38 982.78L1512.37 982.12L1515.37 981.72L1518.35 981.5L1521.33 980.68L1524.32 980.41L1527.3 979.8L1530.28 979.43L1533.27 979.15L1536.25 978.91L1539.23 978.62L1542.22 977.73L1545.2 977.64L1548.18 977.05L1551.17 977.04L1554.15 976.55L1557.13 976.34L1560.12 976.08L1563.1 975.84L1566.08 975.55L1569.07 975.36" stroke="#424242" stroke-width="2.4"/>
<path d="M286.37 1524.76L288.84 1525.66L291.32 1525.34L293.8 1526.16L296.28 1528.14L298.76 1527.49L301.24 1527.95L303.72 1527.24L306.24 1527.7L308.76 1531.02L311.28 1532.39L313.79 1532.32L316.31 1532.79L318.83 1532.64L321.35 1532.21L323.87 1533.34L326.39 1535.35L328.91 1535.67L331.43 1535.89L333.94 1536.47L336.46 1536.37L338.98 1536.13L341.5 1534.95L344.02 1535.36L346.54 1536.26L349.06 1539.34L351.58 1540.04L354.1 1540.96L356.61 1539.41L359.13 1540.6L361.65 1540.4L364.17 1541.44L366.69 1541.29L369.21 1542.62L371.73 1543.29L374.25 1545.45L376.76 1545.84L379.28 1545.67L381.8 1545.73L384.32 1545.74L386.84 1546.54L389.36 1545.37L391.88 1545.29L394.4 1546.43L396.91 1548.6L399.43 1550L401.95 1549.45L404.47 1548.77L406.99 1549.06L409.51 1548.79L412.03 1550.44L414.55 1551.69L417.06 1551.91L419.58 1553.54L422.1 1554.59L424.62 1554.51L427.14 1555.38L429.66 1555.05L432.18 1554.46L434.7 1555.48L437.21 1554.5L439.73 1555.92L442.25 1556.92L444.77 1557.17L447.29 1558.3L449.81 1558.23L452.33 1558.27L454.85 1556.72L457.36 1557.44L459.88 1559.41L462.4 1560.81L464.92 1561.11L467.44 1562.18L469.96 1562.2L472.48 1562.95L475 1562.01L477.51 1562.39L480.03 1563.99L482.55 1563.18L485.07 1562.88L487.59 1563.25L490.11 1563.31L492.63 1562.73L495.15 1564.14L497.66 1564.34L500.18 1565.28L502.7 1565.75L505.22 1565.19L507.74 1566.08L510.26 1566.58L512.78 1567.42L515.3 1567.06L517.81 1568.55L520.33 1567.82L522.85 1568.83L525.37 1569.71L527.89 1568.86L530.41 1569.44L532.93 1569.07L535.45 1569.58L537.96 1569.55L540.48 1569.85L543 1570.48L545.52 1569.55L548.04 1570.96L550.56 1570.49L553.08 1571.13L555.6 1570.92L558.11 1570.09L560.63 1570.25L563.15 1570.77L565.67 1570.37L568.19 1569.64L570.71 1570.97L573.23 1572.5L575.75 1573.71L578.27 1573.75L580.78 1573.83L583.3 1574.3L585.82 1574.68L588.34 1574.53L590.86 1575.34L593.38 1575.32L595.9 1576.38L598.42 1576.79L601.01 1576.89L603.61 1576.66L606.21 1575.62L608.81 1574.41L611.41 1576.29L614.01 1575.48L616.61 1576.78L619.21 1577.29L621.81 1577.51L624.41 1577.06L627 1577.7L629.6 1578.51L632.2 1578.2L634.8 1579.03L637.4 1581.1L640 1580.07L643.05 1580.67L646.1 1580.88L649.15 1580.16L652.19 1581.49L654.77 1580.93L657.35 1580.11L659.93 1580.43L662.51 1579.86L665.08 1579.1L667.66 1579L670.24 1578.21L672.82 1578.02L675.39 1578.19L677.97 1578.14L680.55 1578.04L683.13 1579.13L685.71 1577.53L688.28 1577.24L690.86 1577.51L693.44 1579.01L696.02 1579.46L698.59 1579.37L701.17 1578.08L703.75 1578.85L706.33 1577.98L708.91 1578.39L711.48 1577.69L714.06 1577.01L716.64 1577.94L719.22 1579.5L721.8 1578.41L724.37 1578.69L726.95 1579.46L729.53 1578.25L732.11 1578.39L734.68 1578.78L737.26 1577.78L739.79 1578.74L742.32 1580.55L744.84 1580.97L747.37 1579.45L749.89 1580.48L752.42 1579.25L754.95 1579.25L757.47 1578.81L760 1578.78L762.62 1577.97L765.24 1576.27L767.86 1575.56L770.48 1574.75L773.1 1574.41L775.14 1576.85L777.19 1578.41L779.24 1581.29L781.28 1580.39L784.15 1579.62L787.01 1579.54L789.88 1578.85L792.74 1579.33L795.26 1577.62L797.78 1578.26L800.3 1577.42L802.82 1576.53L805.34 1575.79L807.86 1574.8L810.38 1575.13L812.89 1576.24L815.41 1576.07L817.93 1576.41L820.45 1573.5L822.97 1573.45L825.49 1572.53L828.01 1572.56L830.53 1571.24L833.04 1572.03L835.56 1570.24L838.08 1570.64L840.6 1569.5L843.12 1570.96L845.64 1572.58L848.16 1572.77L850.68 1571.27L853.19 1570.61L855.71 1570.54L858.23 1569.68L860.96 1568.82L863.69 1568.58L866.42 1570.03L869.15 1570.71L871.88 1571.12L874.6 1571.84L877.33 1570.28L880.06 1568.86L882.79 1568.65L885.52 1566.64L888.25 1565.35L890.98 1566.84L893.78 1567.62L896.59 1567.06L899.4 1566.34L902.2 1564.5L905.01 1563.64L907.82 1563.61L910.62 1563.67L913.24 1563.7L915.86 1565.04L918.48 1567.38L921.1 1569.1L923.72 1568.26L926.45 1566.44L929.18 1564.43L931.91 1565.2L934.63 1564.99L937.36 1564.59L940.09 1561.33L942.82 1560L945.55 1559.73L948.28 1558.75L951.01 1558.95L953.73 1559.27L956.46 1559.73L959.19 1561.65L961.92 1560.88L964.65 1559.69L967.38 1559.15L970.11 1559.32L972.84 1558.48L975.29 1558.46L977.75 1555.01L980.2 1554.1L982.66 1553.94L985.93 1555.27L989.21 1558.39L991.55 1558.54L993.89 1556.08L996.22 1554.89L998.56 1550.93L1000.9 1549.6L1003.24 1549.34L1005.58 1550.54L1008.31 1549.83L1011.04 1549.77L1013.77 1547.34L1016.49 1547.63L1019.22 1547.49L1021.95 1547.57L1024.68 1546.6L1027.41 1545.87L1030.14 1543.06L1032.87 1542.74L1035.59 1542.79L1038.32 1542.29L1040.66 1542.98L1043 1540.36L1045.34 1539.32L1047.68 1537.29L1050.02 1535.35L1052.36 1534.3L1054.7 1532.77L1057.03 1531.14L1059.37 1531.11L1061.71 1532.58L1064.05 1531.55L1066.39 1529.97L1068.73 1530.06L1071.07 1527.37L1073.41 1526.93L1075.75 1524.71L1078.08 1522.66L1080.42 1520.28L1082.76 1519.15L1085.1 1517.26L1087.44 1515.67L1089.49 1514.63L1091.53 1512.53L1093.58 1511.14L1095.63 1509.81L1097.67 1508.46L1099.72 1505.46L1101.76 1502.41L1103.81 1500.41L1105.86 1498.61L1107.9 1498.17L1109.95 1495.92L1112 1494.13L1114.04 1491.12L1116.09 1490.65L1118.14 1488.27L1120.18 1486.99L1122.23 1484.5L1124.28 1483L1126.32 1480.56L1128.37 1479.62L1130.42 1476.45L1132.46 1475.02L1134.51 1471.87L1136.56 1470.42L1138.74 1468.36L1140.92 1468.02L1143.1 1466.83L1145.29 1464.09L1147.47 1464.17L1149.65 1463.44L1152.93 1462.15L1156.2 1460.86L1159.48 1460.42L1162.1 1460.63L1164.72 1460.83L1167.33 1462.33L1169.95 1463.22L1172.57 1464.49L1174.76 1467.18L1176.94 1468.09L1179.12 1469.49L1181.31 1472.73L1183.49 1473.62L1185.67 1476.21L1187.72 1476.18L1189.76 1477.86L1191.81 1478.95L1193.86 1481.54L1195.9 1484.27L1197.95 1485.95L1200 1487.36L1202.04 1488.88L1204.38 1490.57L1206.72 1492L1209.06 1493.23L1211.4 1496.17L1213.74 1498.11L1216.08 1499.84L1218.42 1500.91L1220.87 1500.73L1223.33 1502.18L1225.78 1503.99L1228.24 1503.43L1230.97 1505.25L1233.7 1505.09L1236.42 1506.48L1239.15 1508.79L1241.88 1508.72L1244.61 1506.65L1246.96 1506.85L1249.3 1509.6L1251.65 1510.92L1254.19 1511.63L1256.74 1511.33L1259.29 1511.1L1261.83 1510.6L1264.38 1510.05L1266.93 1510.35L1269.47 1511.11L1272.02 1512.24L1274.57 1511.24L1277.11 1511.02L1279.66 1510.43L1282.21 1509.79L1284.75 1509.86L1287.3 1510.54L1289.85 1510.38L1292.39 1511.26L1294.94 1511.91L1297.49 1511.48L1300.01 1510.77L1302.53 1510.99L1305.04 1510.69L1307.56 1510.25L1310.08 1509.54L1312.6 1509.74L1315.12 1509.38L1317.64 1508.92L1320.16 1509.48L1322.68 1507.35L1325.19 1507.2L1327.71 1505.76L1330.23 1505.85L1333.51 1509.11L1336.19 1509.34L1338.86 1508.79L1341.54 1508.62L1344.22 1508.41L1346.9 1507.86L1349.58 1506.51L1352.26 1506.05L1354.94 1506.05L1357.62 1505.01L1360.3 1504.45L1362.98 1505.31L1365.49 1506.13L1368.01 1506.01L1370.53 1505.43L1373.05 1503.76L1375.57 1503.02L1378.09 1503.46L1380.61 1503.39L1383.13 1503.66L1385.64 1502.81L1388.16 1501.46L1390.68 1501.59L1393.2 1501.52L1395.72 1501.8L1398.24 1502.08L1400.76 1501.58L1403.28 1499.82L1405.79 1498.37L1408.31 1497.97L1410.83 1497.8L1413.35 1498.47L1415.87 1497.23L1418.39 1496.87L1420.91 1498.62L1423.43 1499.42L1425.94 1498.18L1428.46 1498.06L1430.98 1497.09L1433.5 1497.38L1436.02 1495.87L1438.54 1496.24L1441.06 1495.67L1443.58 1493.17L1446.1 1491.74L1448.61 1491.84L1451.13 1491.66L1453.65 1491.44L1456.17 1490.81L1458.69 1490.77L1461.21 1490.22L1463.94 1490.9L1466.66 1489.41L1469.39 1487.66L1472.12 1485.69L1474.85 1486.43L1477.58 1486.14L1480.04 1487.27L1482.49 1488.04L1484.95 1489.05L1487.4 1489.72L1489.37 1489.24L1491.33 1486.05L1493.3 1484.26L1495.26 1481.81L1497.23 1481.73L1499.95 1482.02L1502.68 1483.56L1505.41 1484.09L1507.05 1482.07L1508.69 1478.26L1510.32 1475.34L1511.96 1471.57L1513.6 1470.75L1515.24 1472.13L1516.87 1474.5L1518.51 1478.91L1519.06 1480.67L1519.6 1482.64L1520.15 1486.35L1520.69 1489.22L1521.24 1491.65L1521.78 1494.02L1523.75 1496.88L1525.71 1496.86L1526.61 1496.17L1527.51 1494.3L1528.41 1491.69L1529.31 1487.87L1529.64 1486.19L1529.97 1483.29L1530.3 1480.15L1530.62 1476.95" stroke="#0a5cda" stroke-width="1.25"/>
<path d="M327.3 1783.7L329.59 1783.12L331.88 1781.17L334.17 1779.86L336.46 1777.99L338.98 1777.55L341.5 1776.29L344.02 1775.84L346.54 1775.33L349.06 1773.98L351.58 1773.37L354.1 1772.33L356.61 1771.87L359.13 1770.3L361.65 1769.69L364.17 1769.3L366.69 1768.42L369.21 1768.23L371.73 1767.64L374.25 1766.6L376.76 1765.12L379.28 1764.53L381.8 1764.02L384.32 1763.76L386.84 1762.28L389.36 1761.48L391.88 1760.63L394.4 1760.26L396.91 1759.35L399.43 1758.77L401.95 1758.6L404.47 1756.93L406.99 1755.59L409.51 1754.86L412.03 1753.95L414.55 1753.15L417.06 1752.66L419.58 1751.8L422.1 1751.24L424.62 1749.99L427.14 1749.78L429.66 1749.72L432.18 1749.39L434.7 1747.95L437.21 1746.84L439.73 1745.61L442.25 1745.06L444.77 1744.49L447.29 1743.83L449.81 1744.05L452.33 1743.08L454.85 1741.54L457.36 1740.69L459.88 1740.48L462.4 1739.32L464.92 1739.35L467.44 1738.63L469.96 1737.73L472.48 1736.48L475 1736.2L477.51 1735.72L480.03 1735.83L482.55 1734.45L485.07 1733.72L487.59 1733.27L490.11 1731.67L492.63 1730.5L495.15 1730.19L497.66 1729.36L500.18 1728.81L502.7 1727.89L505.22 1728.05L507.74 1727.77L510.26 1727.09L512.78 1726.56L515.3 1726.38L517.81 1725.8L520.33 1725.19L522.85 1724.55L525.37 1723.86L527.89 1722.59L530.41 1722.56L532.93 1721.37L535.45 1721.23L537.96 1721.16L540.48 1721.25L543 1720.17L545.52 1718.66L548.04 1718.05L550.56 1717.27L553.08 1716.31L555.6 1715.57L558.11 1714.88L560.63 1714.81L563.15 1714.14L565.67 1713.75L568.19 1712.19L570.71 1711.36L573.23 1711.37L575.75 1710.53L578.27 1709.49L580.78 1708.31L583.3 1708.32L585.82 1708.47L588.34 1708.14L590.86 1707.64L593.38 1706.06L595.9 1705.66L598.42 1705.53L600.86 1705L603.31 1703.4L605.75 1702.47L608.2 1702.12L610.65 1702.46L613.09 1701.55L615.54 1701.25L617.98 1700.45L620.43 1699.89L622.88 1698.64L625.32 1697.86L627.77 1696.68L630.22 1695.12L632.66 1695.3L635.11 1694.91L637.55 1694.19L640 1693.11L642.53 1691.75L645.07 1691.46L647.6 1690.71L650.14 1690.06L652.67 1689.58L655.21 1688.28L657.74 1687.98L660.28 1686.76L662.81 1687.01L665.34 1686.89L667.88 1685.66L670.41 1684.04L672.95 1683.25L675.48 1683.39L678.02 1683.15L680.55 1682.06L683.02 1681.75L685.48 1680.98L687.95 1680.67L690.41 1680.25L692.88 1678.72L695.34 1677.77L697.81 1677.48L700.28 1677.78L702.74 1677.93L705.21 1677.04L707.67 1676.01L710.14 1676.16L712.6 1675.49L715.07 1675.12L717.54 1674.38L720 1673.01L722.47 1672.71L724.93 1672.37L727.4 1671.98L729.87 1671.05L732.33 1670.16L734.8 1670.01L737.26 1668.97L739.73 1669.15L742.19 1668.97L744.66 1669.33L747.13 1667.83L749.59 1666.63L752.06 1666.86L754.52 1666.9L756.99 1667.12L759.45 1665.58L761.92 1665.33L764.39 1664.68L766.85 1664.13L769.32 1663.22L771.78 1663.03L774.25 1662.03L776.71 1662.05L779.18 1662.61L781.65 1662.29L784.11 1661.34L786.58 1661.03L789.04 1660.17L791.51 1659.38L793.98 1659.14L796.46 1658.98L798.94 1658.85L801.43 1657.62L803.91 1657.15L806.39 1656.82L808.88 1656.94L811.36 1656.47L813.84 1655.42L816.33 1655.08L818.81 1653.86L821.29 1653.67L823.78 1653.26L826.26 1652.59L828.75 1652.51L831.23 1651.72L833.71 1651.23L836.2 1651.03L838.68 1650.14L841.16 1649.49L843.65 1648.84L846.13 1648.04L848.61 1647.99L851.1 1648L853.58 1647.84L856.07 1646.73L858.55 1646.16L861.03 1646.29L863.52 1646.19L866 1645.75L868.57 1644.48L871.14 1644.17L873.7 1643.7L876.27 1643.23L878.84 1642.29L881.41 1641.77L883.98 1641.29L886.55 1640.81L889.11 1640.62L891.68 1640.74L894.25 1640.13L896.71 1639.88L899.16 1639.72L901.62 1638.86L904.07 1638.18L906.53 1637.15L908.98 1636.2L911.44 1635.63L913.9 1635.6L916.35 1635.45L918.81 1635.3L921.26 1634.55L923.72 1634.79L926.24 1634.12L928.76 1633.59L931.28 1632.98L933.79 1633.3L936.31 1633.11L938.83 1632.5L941.35 1631.78L943.87 1631.08L946.39 1630.76L948.91 1630.16L951.43 1630.28L953.94 1630.15L956.46 1630.05L958.98 1629.29L961.5 1629.04L964.02 1628.42L966.54 1627.85L969.06 1626.97L971.58 1626.26L974.1 1625.43L976.61 1624.22L979.13 1623.56L981.65 1624.22L984.17 1624.08L986.69 1622.78L989.21 1622.28L991.73 1621.7L994.25 1622.21L996.76 1622.25L999.28 1621.63L1001.8 1621.46L1004.32 1620.38L1006.84 1619.35L1009.36 1619.44L1011.88 1619.32L1014.4 1619.41L1016.91 1619.08L1019.43 1619L1021.95 1618.4L1024.47 1617.85L1026.99 1617.85L1029.51 1616.56L1032.03 1616.13L1034.55 1615.93L1037.06 1614.92L1039.58 1614.89L1042.1 1614.33L1044.62 1614.57L1047.14 1613.73L1049.66 1612.86L1052.18 1612.97L1054.7 1612.82L1057.21 1611.98L1059.73 1612.45L1062.25 1612.45L1064.77 1611.45L1067.29 1611.27L1069.81 1610.39L1072.33 1610.04L1074.85 1609.54L1077.36 1609L1079.88 1608.79L1082.4 1608.49L1084.92 1608.57L1087.44 1608.45L1089.96 1608.31L1092.48 1608.35L1095 1608L1097.51 1607.25L1100.03 1607.06L1102.55 1606.27L1105.07 1605.98L1107.59 1605.51L1110.11 1605.35L1112.63 1605.42L1115.15 1604.32L1117.66 1604.18L1120.18 1604.94L1122.7 1604.84L1125.22 1604.63L1127.74 1604L1130.26 1604.37L1132.78 1603.93L1135.3 1603.48L1137.81 1603.53L1140.33 1603.01L1142.85 1602.97L1145.37 1602.02L1147.89 1602.37L1150.41 1602.01L1152.93 1601.17L1155.45 1601.25L1157.96 1601.14L1160.48 1601.13L1163 1600.27L1165.52 1600.56L1168.04 1600.08L1170.56 1600.12L1173.08 1600.04L1175.6 1599.58L1178.11 1599.21L1180.63 1599.41L1183.15 1598.9L1185.67 1599L1188.19 1598.75L1190.71 1598.78L1193.23 1598.88L1195.75 1598.42L1198.27 1598.92L1200.78 1598.43L1203.3 1598.23L1205.82 1598.75L1208.34 1598.75L1210.86 1599.16L1213.38 1598.79L1215.9 1597.95L1218.42 1597.4L1220.93 1598.38L1223.45 1599.4L1225.97 1599.03L1228.49 1599.24L1231.01 1599.32L1233.53 1598.54L1236.05 1598.26L1238.57 1598.56L1241.08 1599.39L1243.6 1599.26L1246.12 1599.69L1248.64 1600.05L1251.16 1599.8L1253.74 1598.92L1256.32 1599.32L1258.89 1599.26L1261.47 1599.63L1264.05 1601.16L1266.63 1602.02L1269.21 1601.84L1271.66 1602.55L1274.12 1602.95L1276.57 1602.28L1279.03 1602.85L1281.49 1604.49L1283.94 1606.02L1286.4 1606.91L1288.85 1608.55L1291.04 1609.31L1293.22 1609.97L1295.4 1611.21L1297.59 1612.32L1299.77 1613.49L1301.95 1615.11L1304.13 1616.05L1306.32 1617.87L1308.5 1619.3L1310.55 1620.88L1312.59 1622.48L1314.64 1623.8L1316.69 1625.34L1318.73 1627.34L1320.78 1629.28L1322.83 1631.66L1324.87 1634.48L1326.51 1636.49L1328.15 1637.89L1329.78 1640.33L1331.42 1642.16L1333.06 1644.08L1334.7 1646.02L1336.33 1648.25L1337.97 1650.19L1339.61 1651.86L1341.24 1653.11L1342.88 1654.98L1344.52 1657.31L1346.16 1659.45L1347.79 1661.93L1349.43 1663.23L1351.07 1664.94L1354.34 1666.5L1357.62 1667.35L1360.89 1667.69L1364.17 1666.89L1366.13 1666.1L1368.09 1664.52L1370.06 1662.63L1372.02 1660.47L1373.99 1658.34L1375.39 1656.83L1376.79 1655.08L1378.2 1653.04L1379.6 1650.75L1381 1647.8L1382.41 1644.64L1383.81 1642.1L1385.04 1639.53L1386.27 1636.68L1387.5 1634.32L1388.72 1631.92L1389.95 1630.38L1391.18 1627.59L1392.41 1625.29L1393.63 1623.18L1394.86 1620.41L1396.09 1618.17L1397.32 1615.69L1398.55 1613.47L1399.77 1610.78L1401 1608.47L1402.23 1606.2L1403.46 1604.49L1405.09 1602L1406.73 1599.66L1408.37 1598.12L1410.01 1596.01L1411.64 1594.49L1413.28 1592.73L1415.74 1591.42L1418.19 1589.44L1420.65 1588.24L1423.1 1586.87L1424.89 1585.46L1426.68 1583.96L1428.46 1582.31L1430.85 1581.36L1433.23 1579.65L1435.61 1578.6L1437.99 1576.8L1440.37 1575.62L1442.75 1574.78L1445.13 1574.29L1447.51 1573.66L1449.9 1573.08L1452.28 1572.99L1454.66 1571.74L1457.21 1570.77L1459.75 1569.92L1462.3 1569.73L1464.85 1569.41L1467.39 1569.59L1469.94 1569.51L1472.49 1568.9L1475.03 1568.13L1477.58 1567.79L1480.1 1567.47L1482.62 1567.08L1485.14 1566.85L1487.65 1566.82L1490.17 1566.39L1492.69 1565.54L1495.21 1564.95L1497.73 1564.97L1500.25 1564.81L1502.77 1564.14L1505.29 1562.93L1507.8 1563.15L1510.32 1562.48L1512.86 1562.51L1515.4 1561.56L1517.94 1560.73L1520.47 1559.92L1523.01 1559.3L1525.55 1558.9L1528.09 1558.56L1530.62 1558.81" stroke="#0a5cda" stroke-width="1.25"/>
<path d="M286.37 1881.12L288.84 1880.92L291.32 1882.37L293.8 1884.08L296.28 1884.65L298.76 1884.59L301.24 1886.01L303.72 1885.05L306.24 1886.47L308.76 1887L311.28 1887.43L313.79 1887.38L316.31 1886.69L318.83 1887.88L321.35 1887.37L323.87 1888.41L326.39 1890.13L328.91 1891.34L331.43 1890.08L333.94 1889.97L336.46 1889.45L338.98 1891L341.5 1892.06L344.02 1891.72L346.54 1891.85L349.06 1893.05L351.58 1892.41L354.1 1893.29L356.61 1895.01L359.13 1896.43L361.65 1895.2L364.17 1896.55L366.69 1896.08L369.21 1895.45L371.73 1894.99L374.26 1895L376.78 1894.19L379.31 1894.86L381.83 1896.07L384.36 1895.65L386.89 1895.89L389.41 1897.75L391.94 1899.12L394.46 1899.65L396.99 1898.94L399.57 1898.1L402.14 1897.64L404.72 1897.48L407.3 1898.45L409.88 1898.05L412.45 1899.01L415.03 1898.87L417.61 1899.43L420.19 1900.21L422.77 1900.76L425.34 1900.96L427.92 1900.99L430.5 1900.75L433.08 1901.34L435.66 1901.47L438.23 1900.24L440.81 1899.29L443.39 1899.13L445.97 1899.12L448.54 1899.8L451.12 1900.5L453.7 1901.35L456.28 1902.59L458.86 1901.15L461.43 1900.14L464.01 1900.53L466.59 1901.37L469.17 1902.01L471.74 1902.41L474.32 1902.38L476.9 1902.74L479.48 1902.73L482.06 1902.36L484.63 1900.9L487.21 1901.53L489.79 1900.57L492.37 1900.37L494.95 1900.76L497.52 1900.89L500.1 1901.61L502.68 1901.42L505.26 1901.93L507.83 1902.45L510.41 1902L512.99 1902.61L515.57 1902.13L518.15 1902.69L520.72 1902.7L523.3 1902.97L525.88 1902.56L528.46 1901.86L531.04 1901.59L533.61 1901.5L536.19 1902.06L538.77 1902.36L541.35 1903.19L543.92 1903.87L546.5 1903.24L549.08 1904.67L551.66 1905.96L554.24 1905.75L556.81 1904.5L559.39 1903.66L561.97 1904.5L564.55 1903.64L567.13 1903.57L569.7 1904.97L572.28 1905.9L574.86 1907.08L577.44 1907.69L580.01 1906.35L582.59 1905.77L585.17 1907L587.75 1905.85L590.33 1907.01L592.9 1907.01L595.48 1906.34L598.06 1906.83L600.64 1906.78L603.21 1905.4L605.79 1904.52L608.37 1903.88L610.95 1904.92L613.53 1904.82L616.1 1905.76L618.68 1905.1L621.26 1905.22L623.84 1906.39L626.42 1906.88L628.99 1907.88L631.57 1908.19L634.15 1908.76L636.73 1907.57L639.3 1907.76L641.88 1908.63L644.46 1908.5L647.04 1906.71L649.62 1907.93L652.19 1906.49L654.77 1906.81L657.35 1906.85L659.93 1906.66L662.51 1906.91L665.08 1907.05L667.66 1907.21L670.24 1906.09L672.82 1906.13L675.39 1907.2L677.97 1908.37L680.55 1909.58L682.82 1908.55L685.09 1905.73L687.36 1902.6L689.62 1901.2L691.89 1901.25L694.02 1902.51L696.15 1905.16L698.27 1906.84L700.4 1907.31L703.03 1907.07L705.67 1907.56L708.3 1907.9L710.93 1908.03L713.56 1907.4L716.2 1906.65L718.83 1905.89L721.46 1905.38L724.1 1906.05L726.73 1906.72L729.36 1905.85L732 1906.03L734.63 1906.91L737.26 1906.2L739.84 1906.21L742.42 1905.33L745 1906.04L747.57 1904.88L750.15 1903.76L752.73 1903.16L755.31 1902.76L757.89 1903.39L760.46 1903.44L763.04 1903.82L765.62 1904.88L767.89 1902.99L770.16 1901.91L772.42 1899.77L774.88 1899.21L777.34 1899.98L779.8 1901.24L782.25 1899.3L784.71 1897.11L787.17 1895.35L790.57 1898.18L793.98 1898.76L796.55 1899.45L799.13 1900.03L801.71 1898.85L804.29 1898.77L806.86 1899.16L809.44 1899.62L812.02 1899.3L814.6 1898.26L817.18 1898.14L819.75 1897.89L822.33 1896.94L824.9 1897.48L827.47 1898.07L830.04 1897.67L832.61 1898.75L835.18 1897.62L837.74 1897.28L840.31 1896.45L842.88 1895.78L845.45 1896.06L848.02 1895.01L850.59 1895.99L853.16 1895.04L855.73 1895.42L858.29 1895.3L860.86 1895.89L863.43 1895.84L866 1895.98L868.58 1893.98L871.16 1894.29L873.73 1894.35L876.31 1893.97L878.89 1893.22L881.47 1893.63L884.04 1893.04L886.62 1891.61L889.2 1891.01L891.78 1891.39L894.36 1890.01L896.93 1890.79L899.51 1890.3L902.09 1890.8L904.67 1890.72L907.25 1890.08L909.82 1892.1L912.4 1891.32L914.98 1891.94L917.56 1890.16L920.13 1890.95L922.71 1889.37L925.29 1890.43L927.87 1889.99L930.45 1890.07L933.02 1890.71L935.6 1891.23L938.18 1889.56L940.76 1890.09L943.34 1889.71L945.91 1889.02L948.49 1886.53L951.07 1885.27L953.65 1885.4L956.22 1885.62L958.8 1886.67L961.38 1886.54L963.96 1884.62L966.54 1883.72L969.11 1883.72L971.69 1883.32L974.27 1882.98L976.85 1882.1L979.43 1882.17L982 1881.57L984.58 1880.94L987.16 1880.84L989.74 1882.34L992.31 1880.99L994.89 1881.78L997.47 1881.74L1000.05 1881.59L1002.63 1880.27L1005.2 1881.44L1007.78 1881.38L1010.36 1880.49L1012.94 1879.81L1015.51 1880.02L1018.09 1879.28L1020.67 1881.26L1023.25 1881.97L1025.83 1881.63L1028.4 1880.29L1030.98 1878.62L1033.56 1878.29L1036.14 1877.98L1038.97 1878.09L1041.81 1877.18L1044.64 1876.74L1047.48 1876.49L1050.32 1877.05L1053.15 1877.28L1055.99 1878.03L1058.82 1878.42L1061.44 1878.85L1064.06 1878.29L1066.68 1877.16L1069.29 1876.78L1071.91 1876.33L1074.53 1875.08L1077.15 1872.66L1079.76 1872.54L1082.38 1871.47L1085 1872.27L1087.62 1872.48L1090.23 1870.52L1092.85 1869.67L1095.43 1869.72L1098.01 1869.78L1100.58 1868.23L1103.16 1868L1105.74 1868.9L1108.32 1869.59L1110.89 1869.31L1113.47 1870.18L1116.05 1869.5L1118.63 1869.16L1121.21 1868.81L1123.78 1867.07L1126.36 1865.49L1128.94 1864.43L1131.52 1864.22L1134.1 1865.37L1136.67 1864.14L1139.25 1864.7L1141.83 1863.1L1144.41 1863.77L1146.98 1863.39L1149.56 1863.07L1152.14 1863.74L1154.72 1864.22L1157.3 1863.93L1159.87 1864.58L1162.45 1863.9L1165.03 1862.47L1167.61 1861.94L1170.19 1861.52L1172.76 1860.5L1175.34 1860.91L1177.92 1861.03L1180.5 1859.97L1183.07 1858.17L1185.65 1857.22L1188.23 1857.41L1190.81 1858.29L1193.39 1858.16L1195.96 1858.61L1198.54 1857.79L1201.12 1857.72L1203.7 1857.71L1206.28 1856.69L1208.85 1856.73L1211.42 1857.59L1213.99 1858.25L1216.57 1857.98L1219.14 1857.91L1221.71 1856.74L1224.28 1857.47L1226.86 1857.18L1229.43 1856.96L1232 1857.04L1234.52 1855.9L1237.04 1856.62L1239.56 1856.53L1242.08 1856.97L1244.59 1856.52L1247.11 1854.85L1249.63 1856.27L1252.15 1855.55L1254.67 1856.28L1257.19 1856.53L1259.71 1857.54L1262.23 1856.56L1264.74 1856.49L1267.26 1856.09L1269.78 1855.54L1272.3 1854.73L1274.82 1854.58L1277.34 1854.64L1279.86 1853.89L1282.38 1854.07L1284.89 1852.31L1287.41 1851.97L1289.93 1850.67L1292.45 1852.77L1294.97 1851.96L1297.49 1851.61L1300.01 1850.42L1302.53 1850.49L1305.04 1849.97L1307.56 1850.24L1310.08 1849.6L1312.6 1849.45L1315.12 1849.2L1317.64 1849.88L1320.16 1849.31L1322.68 1849.66L1325.19 1850.16L1327.71 1849.72L1330.23 1848.09L1332.75 1848.41L1335.27 1847.23L1337.79 1846.55L1340.31 1846.34L1342.83 1846.31L1345.34 1845.38L1347.86 1846.93L1350.38 1847.88L1352.9 1846.91L1355.42 1846.38L1357.94 1844.64L1360.46 1843.35L1362.98 1844.05L1365.49 1843.74L1368.01 1844.04L1370.53 1843.48L1373.05 1844.74L1375.57 1844.91L1378.09 1844L1380.61 1843.1L1383.13 1842.84L1385.64 1842.36L1388.16 1841.9L1390.68 1840.95L1393.2 1840.16L1395.72 1838.75L1398.24 1838.48L1400.76 1837.53L1403.28 1837.39L1405.79 1838.38L1408.31 1838.05L1410.83 1838.06L1413.35 1838.61L1415.87 1839.27L1418.39 1838.82L1420.91 1837.26L1423.43 1835.92L1425.94 1834.98L1428.46 1835.2L1430.98 1835.75L1433.5 1834.89L1436.02 1836.64L1438.54 1837.24L1441.06 1837.55L1443.58 1836.02L1446.1 1834.82L1448.61 1834.15L1451.13 1833.61L1453.65 1833.49L1456.17 1834.47L1458.69 1832.92L1461.21 1832.67L1463.94 1832.72L1466.66 1830.27L1469.39 1828.68L1472.12 1827.37L1474.85 1828.59L1477.58 1829.55L1480.2 1829.76L1482.82 1831.19L1485.44 1832.3L1488.06 1834.51L1490.68 1834.47L1492.86 1832.1L1495.04 1827.97L1497.23 1826.22L1499.14 1826.07L1501.05 1827.48L1502.96 1830.75L1504.87 1832.41L1506.78 1835.5L1508.69 1836.21L1510.32 1836.45L1511.96 1834.58L1513.6 1831.57L1515.24 1828.73L1516.3 1826.14L1517.36 1821.54L1518.43 1818.11L1519.49 1817.33L1520.05 1816.96L1520.61 1818.52L1521.16 1822.25L1521.72 1824.56L1522.28 1828.72L1522.83 1831.08L1523.39 1835.18L1523.94 1838.02L1524.5 1840.3L1525.06 1841.95L1528.33 1845.8L1529.97 1842.66" stroke="#f53c3c" stroke-width="1.25"/>
<path d="M327.3 2108.08L329.91 2107.42L332.53 2106.58L335.15 2105.99L337.77 2105.48L340.39 2106.28L343.01 2106.06L345.63 2105.11L348.25 2104.64L350.87 2103.94L353.49 2102.95L356.11 2103.01L358.73 2102.52L361.35 2102.64L363.97 2102.35L366.59 2102.24L369.21 2101.81L371.73 2101.77L374.25 2100.36L376.76 2099.14L379.28 2099.11L381.8 2098.42L384.32 2098.16L386.84 2098.09L389.36 2098.01L391.88 2097.77L394.4 2097.31L396.91 2096.69L399.43 2096.22L401.95 2096.11L404.47 2095.11L406.99 2095.01L409.51 2094.64L412.03 2094.12L414.55 2093.69L417.06 2093.85L419.58 2093.2L422.1 2093.57L424.62 2093.34L427.14 2093.31L429.66 2092.63L432.18 2092.66L434.7 2092.02L437.21 2091.28L439.73 2091L442.25 2090.64L444.77 2090.88L447.29 2090.73L449.81 2090.54L452.33 2090.22L454.85 2088.97L457.36 2088.98L459.88 2089.48L462.4 2089.36L464.92 2088.82L467.44 2088.54L469.96 2088.01L472.48 2087.09L475 2086.68L477.51 2087.32L480.03 2086.89L482.55 2086.4L485.07 2086.14L487.59 2086.01L490.11 2084.68L492.63 2084.1L495.15 2083.92L497.66 2083.36L500.18 2083.41L502.7 2082.97L505.22 2082.58L507.74 2082.02L510.26 2081.8L512.78 2082.19L515.3 2082.25L517.81 2081.79L520.33 2081.57L522.85 2081.02L525.37 2080.37L527.89 2079.8L530.41 2079.53L532.93 2079.77L535.45 2079.57L537.96 2079.07L540.48 2078.57L543 2078.56L545.52 2079.06L548.04 2078.12L550.56 2077.74L553.08 2077.34L555.6 2077.32L558.11 2076.89L560.63 2076.45L563.15 2075.53L565.67 2075.82L568.19 2075.64L570.71 2075.53L573.23 2074.5L575.75 2073.77L578.27 2073.69L580.78 2074.08L583.3 2073.88L585.82 2073.05L588.34 2072.41L590.86 2072.34L593.38 2072.35L595.9 2071.78L598.42 2071.88L601.01 2071.13L603.61 2071.4L606.21 2071.1L608.81 2070.58L611.41 2069.54L614.01 2069.23L616.61 2069.59L619.21 2069.41L621.81 2068.76L624.41 2068.1L627 2068.03L629.6 2068.32L632.2 2067.69L634.8 2067.6L637.4 2067.17L640 2066.43L642.53 2065.33L645.07 2065.77L647.6 2065.93L650.14 2065.05L652.67 2064.08L655.21 2063.57L657.74 2063.57L660.28 2063.08L662.81 2063.05L665.34 2062.94L667.88 2062.15L670.41 2062.33L672.95 2061.71L675.48 2061.02L678.02 2060.29L680.55 2060.74L683.13 2060.91L685.71 2060.55L688.28 2060.37L690.86 2060.57L693.44 2060.1L696.02 2059.88L698.59 2059.02L701.17 2058.61L703.75 2058.05L706.33 2058.04L708.91 2057.45L711.48 2057.57L714.06 2057.15L716.64 2056.49L719.22 2056.28L721.8 2055.77L724.37 2055.83L726.95 2055.8L729.53 2055.11L732.11 2054.48L734.68 2054.58L737.26 2054.49L739.78 2054.61L742.3 2053.64L744.82 2053.76L747.34 2053.36L749.87 2054.02L752.39 2052.81L754.91 2052.18L757.43 2051.81L759.95 2051.11L762.47 2050.85L764.99 2050.88L767.51 2050.16L770.03 2049.77L772.55 2049.58L775.07 2049.63L777.59 2049.87L780.11 2049.55L782.63 2048.94L785.16 2048.85L787.69 2048.58L790.21 2048.46L792.74 2048.19L795.26 2047.64L797.79 2048.06L800.32 2047.59L802.84 2046.48L805.37 2046.15L807.9 2045.96L810.42 2045.9L812.95 2045.85L815.47 2045.36L818 2045.3L820.53 2044.4L823.05 2044.15L825.58 2044.43L828.11 2044.27L830.63 2043.78L833.16 2043.14L835.68 2042.61L838.21 2042.13L840.74 2041.23L843.26 2041.08L845.79 2041.19L848.32 2040.88L850.84 2039.94L853.37 2040.14L855.89 2039.74L858.42 2039.57L860.95 2039.85L863.47 2039.64L866 2039.07L868.52 2038.84L871.04 2038.13L873.56 2038.2L876.08 2038.16L878.6 2037.48L881.12 2036.61L883.64 2036.38L886.16 2036.68L888.69 2036L891.21 2035.48L893.73 2035.2L896.25 2035.1L898.77 2035L901.29 2034.52L903.81 2034.6L906.33 2034.42L908.85 2034.53L911.37 2034.55L913.89 2034.47L916.41 2034.32L918.93 2034.16L921.45 2033.19L923.97 2032.88L926.49 2032.58L929.01 2031.75L931.53 2031.48L934.06 2031.14L936.58 2030.25L939.1 2030.23L941.62 2029.93L944.14 2030.25L946.66 2030.3L949.18 2030.57L951.7 2030.12L954.22 2029.73L956.74 2029.6L959.26 2029.55L961.78 2028.79L964.3 2027.9L966.82 2027.9L969.34 2027.28L971.86 2026.76L974.38 2026.21L976.9 2026.18L979.43 2026.14L981.95 2026.07L984.47 2026.14L986.99 2026.07L989.51 2026.1L992.03 2025.88L994.55 2026.05L997.07 2025.32L999.59 2024.88L1002.11 2024.84L1004.63 2024.29L1007.15 2024.88L1009.67 2024.21L1012.19 2023.83L1014.71 2023.47L1017.23 2023.45L1019.75 2023.13L1022.27 2022.65L1024.8 2021.94L1027.32 2021.67L1029.84 2022.04L1032.36 2021.75L1034.88 2021.68L1037.4 2020.82L1039.92 2020.61L1042.44 2019.56L1044.96 2019.72L1047.48 2020.09L1050 2020.3L1052.52 2019.63L1055.04 2018.59L1057.56 2018.09L1060.08 2018.21L1062.6 2018.27L1065.12 2018.43L1067.64 2018.14L1070.17 2017.82L1072.69 2017.39L1075.21 2016.56L1077.73 2016.62L1080.25 2016.54L1082.77 2016.35L1085.29 2015.8L1087.81 2015.6L1090.33 2015.71L1092.85 2015.27L1095.37 2014.93L1097.89 2015.05L1100.41 2014.48L1102.93 2013.8L1105.45 2014L1107.97 2014.14L1110.49 2014.01L1113.01 2013.3L1115.54 2012.99L1118.06 2012.95L1120.58 2012.23L1123.1 2012.12L1125.62 2012.41L1128.14 2012.24L1130.66 2011.69L1133.18 2011.78L1135.7 2011.03L1138.22 2010.4L1140.74 2009.73L1143.26 2009.48L1145.78 2009.32L1148.3 2009.21L1150.82 2009.54L1153.34 2009.07L1155.86 2009.38L1158.38 2009.4L1160.91 2009.03L1163.43 2008.32L1165.95 2008.11L1168.47 2007.92L1170.99 2007.67L1173.51 2006.78L1176.03 2006.19L1178.55 2006.74L1181.07 2007.08L1183.59 2006.64L1186.11 2006.51L1188.63 2006.22L1191.15 2005.17L1193.67 2004.78L1196.19 2004.81L1198.71 2004.75L1201.23 2004L1203.75 2004.6L1206.28 2004.4L1208.8 2003.87L1211.32 2004.24L1213.84 2003.9L1216.36 2002.9L1218.88 2002.45L1221.4 2002.09L1223.92 2002.12L1226.44 2001.7L1228.96 2002.21L1231.48 2001.73L1234 2001.17L1236.52 2000.63L1239.04 2000.94L1241.56 2001.48L1244.08 2001.38L1246.6 2000.54L1249.12 2000.25L1251.65 1999.76L1254.17 1999.75L1256.69 1999.18L1259.21 1998.83L1261.73 1998.74L1264.25 1999.58L1266.77 1999.29L1269.29 1999.25L1271.81 1998.68L1274.33 1998.02L1276.85 1997.74L1279.37 1997.43L1281.89 1997.41L1284.41 1996.81L1286.93 1997.49L1289.45 1997.94L1291.97 1997.78L1294.49 1997.29L1297.02 1997L1299.54 1996.19L1302.06 1995.24L1304.58 1995.35L1307.1 1995.72L1309.62 1995.49L1312.14 1995.23L1314.66 1994.68L1317.18 1993.93L1319.7 1993.45L1322.22 1994.02L1324.74 1994.22L1327.26 1993.79L1329.78 1993.25L1332.3 1992.6L1334.82 1992.71L1337.34 1992.79L1339.86 1992.69L1342.39 1993.1L1344.91 1992.75L1347.43 1992.35L1349.95 1992.33L1352.47 1991.58L1354.99 1990.96L1357.51 1990.53L1360.03 1990.14L1362.55 1989.83L1365.07 1990.37L1367.59 1990.16L1370.11 1989.92L1372.63 1989.32L1375.15 1989.2L1377.67 1989.85L1380.19 1990.03L1382.71 1989.61L1385.23 1988.79L1387.76 1988.66L1390.28 1988.13L1392.8 1987.21L1395.32 1987.45L1397.84 1988.01L1400.36 1987.66L1402.88 1987.32L1405.4 1986.88L1407.92 1986.38L1410.44 1985.89L1412.96 1985.44L1415.48 1985.67L1418 1985.15L1420.52 1985.89L1423.04 1985.56L1425.56 1984.51L1428.08 1984.32L1430.6 1983.85L1433.13 1984.28L1435.63 1984.02L1438.13 1984.12L1440.63 1984.12L1443.13 1983.27L1445.63 1982.81L1448.13 1982.84L1450.63 1982.85L1453.13 1982.44L1455.64 1981.84L1458.14 1981.46L1460.64 1981.36L1463.14 1981L1465.64 1981.34L1468.14 1981.67L1470.64 1981.21L1473.14 1980.43L1475.64 1979.7L1478.15 1979.49L1480.65 1979.5L1483.15 1979.03L1485.65 1979.43L1488.15 1978.88L1490.65 1978.8L1493.15 1978.32L1495.65 1978.31L1498.16 1978.59L1500.66 1978.15L1503.16 1978.07L1505.66 1977.08L1508.16 1976.98L1510.66 1976.65L1513.16 1976.55L1515.66 1975.96L1518.16 1975.62L1520.67 1975.07L1523.17 1975.39L1525.67 1974.9L1528.17 1974.56L1530.67 1975.09" stroke="#f53c3c" stroke-width="1.25"/>
<path d="M285.71 2193.31L288.44 2195.18L291.17 2196.4L293.9 2197.3L296.95 2199.18L300 2201.59L302.54 2202.97L305.09 2203.44L307.63 2202.71L310.17 2200.99L312.71 2201.83L315.26 2202.82L317.8 2203.82L320.34 2204.74L322.88 2205.86L325.43 2205.75L327.97 2205.34L330.51 2206.57L333.05 2208.82L335.6 2209.5L338.14 2210.42L340.68 2210.09L343.22 2211.93L345.74 2211.24L348.27 2210.88L350.79 2211.52L353.31 2211.75L355.83 2213.19L358.35 2214.54L360.87 2215.06L363.39 2214.84L365.91 2215.53L368.44 2215.55L370.96 2217.14L373.48 2216.32L376.14 2217.4L378.8 2217.48L381.46 2219.92L384.12 2220.47L386.78 2221.05L389.44 2219.39L392.1 2220.14L394.76 2219.46L397.42 2219.24L400.08 2220L402.74 2220.89L405.4 2221.88L408.06 2222.83L410.6 2222.8L413.14 2221.54L415.68 2221.34L418.23 2221.26L420.77 2220.93L423.31 2222.51L425.85 2222.87L428.4 2223.76L430.94 2225.5L433.48 2225.31L436.02 2226.18L438.57 2226.6L441.11 2227.43L443.65 2226.7L446.19 2226.18L448.74 2227.42L451.28 2226.67L453.75 2226.53L456.22 2226.7L458.69 2228.04L461.16 2230.22L463.63 2231.48L466.1 2231.85L468.57 2232L471.04 2232.35L473.51 2233.39L475.98 2232.28L478.45 2232.2L480.92 2232.98L483.39 2233.96L485.86 2235.25L488.38 2236.53L490.9 2236.29L493.42 2238.28L495.94 2238.69L498.46 2237.94L500.99 2237.6L503.51 2237.7L506.03 2237.74L508.55 2238.3L511.07 2240.06L513.59 2240.12L516.11 2240.16L518.66 2239.91L521.2 2239.89L523.74 2239.38L526.28 2240.19L528.83 2239.56L531.37 2240.52L533.91 2240L536.45 2240.57L539 2242.26L541.54 2242.28L544.08 2242.13L546.62 2242.55L549.17 2241.76L551.71 2241.1L554.25 2242.21L556.79 2242.1L559.34 2241.88L561.88 2241.8L564.42 2243.19L566.96 2243.93L569.51 2243.53L572.05 2244.55L574.59 2244.66L577.13 2245.23L579.68 2245.57L582.22 2245.64L584.76 2245.72L587.3 2245.93L589.85 2246.36L592.39 2245.83L594.93 2246L597.47 2245.62L600.02 2244.4L602.56 2244.94L605.11 2244.37L607.67 2244.33L610.22 2244.63L612.78 2245.91L615.33 2247.61L617.88 2248.09L620.44 2246.53L622.99 2247.94L625.55 2247.43L628.1 2246.73L630.65 2245.74L633.21 2245.94L635.76 2246.38L638.32 2246.78L640.87 2247.18L643.42 2247.99L645.98 2248.81L648.53 2249.61L651.09 2250.82L653.64 2250.03L656.19 2250.83L658.75 2251.13L661.27 2248.77L663.79 2248.82L666.31 2248.84L668.83 2247.83L671.35 2247.66L673.88 2246.96L676.4 2247.11L678.92 2248.23L681.44 2247.54L683.96 2248.37L686.48 2248.73L689 2248.92L691.71 2248.31L694.41 2245.84L697.11 2247.43L699.81 2248.05L702.51 2249.75L705.21 2250.06L707.91 2250.4L710.62 2250.72L713.09 2251.14L715.56 2250.08L718.03 2247.76L720.49 2246.33L722.96 2244.52L725.43 2245.06L727.9 2244.68L730.55 2245.65L733.19 2246.01L735.83 2246.51L738.47 2248.48L741.11 2247.78L743.75 2247.23L746.39 2249.19L749.04 2249.4L751.68 2248.91L753.84 2249.54L756 2249.28L758.16 2247.79L760.32 2246.5L762.48 2245.67L764.64 2244.97L766.8 2246.19L768.97 2247.89L771.13 2249.7L773.29 2249.82L775.81 2250.66L778.33 2248.6L780.85 2247.5L783.37 2245.74L785.89 2244.85L788.42 2245.34L791.01 2247.77L793.6 2247.95L796.2 2249.41L798.79 2248.58L801.38 2249.09L803.85 2249.67L806.32 2251.67L808.79 2251.28L811.26 2248.71L813.73 2246.94L816.2 2246.73L818.67 2246.91L821.14 2245.87L823.61 2245.92L826.08 2246.61L828.55 2244.42L831.02 2244.21L833.49 2245.08L835.96 2244.89L838.55 2245L841.15 2244.87L843.74 2243.46L846.33 2243.09L848.93 2242.12L851.52 2242.75L854.11 2241.54L856.71 2241.08L859.3 2242.11L861.89 2242.24L864.44 2243.26L866.98 2241.91L869.52 2240.57L872.06 2240.26L874.61 2239.49L877.15 2242.29L879.69 2241.91L882.23 2241.78L884.78 2239.3L887.32 2238.99L889.86 2239.02L892.41 2239.19L894.95 2238.97L897.49 2238.29L900.03 2238.64L902.58 2237.72L905.12 2238.55L907.66 2237.69L910.2 2238.19L912.75 2238.25L915.29 2237.08L917.83 2235.15L920.37 2235.25L922.92 2235.35L925.46 2235.15L928 2234.07L930.54 2233.19L933.09 2234L935.63 2233.81L938.17 2233.37L940.71 2231.75L943.26 2230.93L945.8 2232.09L948.34 2232.46L951.26 2234L954.18 2234.27L957.09 2235.49L960.01 2233.79L962.53 2234.35L965.05 2231.48L967.58 2230.24L970.1 2227.24L972.62 2226.72L976.02 2227.29L979.43 2229.45L982 2229.51L984.58 2229.23L987.16 2230.48L989.74 2230.61L992.31 2231L994.89 2228.75L997.47 2229.08L1000.05 2226.76L1002.63 2225.96L1005.2 2226.03L1007.78 2225.12L1010.36 2224.99L1012.94 2225.08L1015.51 2225.91L1018.09 2224.08L1020.67 2222.69L1023.25 2220.97L1025.83 2220.57L1028.4 2221.04L1030.98 2221.36L1033.56 2221.21L1036.14 2220.41L1038.72 2218.79L1041.29 2218.63L1043.87 2218.31L1046.45 2218.84L1049.03 2219.34L1051.6 2218.05L1054.18 2217.87L1056.76 2217.27L1059.34 2218.93L1061.92 2218.61L1064.49 2218.34L1067.07 2217.98L1069.65 2214.88L1072.23 2214.68L1074.81 2214.81L1077.38 2215.51L1079.96 2216.48L1082.54 2215.67L1085.12 2214.43L1087.69 2213.66L1090.27 2212.96L1092.85 2213.73L1095.37 2213.5L1097.89 2213.27L1100.41 2211.6L1102.93 2211.21L1105.45 2211.03L1107.97 2211.22L1110.49 2211.68L1113.01 2211.11L1115.54 2209.45L1118.06 2209.05L1120.58 2207.66L1123.1 2206.78L1125.62 2205.32L1128.14 2204.69L1130.66 2205.07L1133.18 2203.95L1135.7 2204.05L1138.22 2205.06L1141.06 2206.36L1143.89 2207.35L1146.73 2207.83L1149.56 2207.4L1152.14 2206.79L1154.72 2207.81L1157.3 2206.8L1159.87 2207.6L1162.45 2207.62L1165.03 2206.52L1167.61 2204.77L1170.19 2204.64L1172.76 2206.53L1175.34 2206.28L1177.92 2206.16L1180.5 2205.77L1183.07 2204.02L1185.65 2203.39L1188.23 2204.02L1190.81 2203.63L1193.39 2202.48L1195.96 2201.6L1198.54 2199.69L1201.12 2199.15L1203.7 2199.62L1206.28 2200.69L1208.85 2200.44L1211.42 2199.38L1213.99 2200.35L1216.57 2199.63L1219.14 2198.78L1221.71 2196.35L1224.28 2195.72L1226.86 2196.07L1229.43 2195.51L1232 2195.37L1234.52 2194.87L1237.04 2194.59L1239.56 2194.67L1242.08 2194.22L1244.59 2194.06L1247.11 2194.4L1249.63 2192.38L1252.15 2191.62L1254.67 2190.43L1257.19 2190.33L1259.71 2188.93L1262.23 2188.5L1264.74 2187.71L1267.36 2187.7L1269.98 2189.15L1272.6 2187.87L1275.22 2187.7L1277.84 2186.68L1280.46 2184.82L1283.08 2184.52L1285.7 2184.64L1288.32 2183.29L1290.94 2184.32L1294.21 2186.28L1297.49 2187.18L1300.76 2186.38L1303.44 2187.15L1306.12 2186.3L1308.8 2184.84L1311.48 2184.28L1314.16 2184.95L1316.84 2183.61L1319.52 2183.62L1322.19 2183.75L1324.87 2181.9L1327.55 2179.75L1330.23 2180.43L1332.75 2181.61L1335.27 2182.1L1337.79 2181.37L1340.31 2181.65L1342.83 2179.27L1345.34 2180.24L1347.86 2179.92L1350.38 2179.15L1352.9 2178.62L1355.42 2178.7L1357.94 2178.16L1360.46 2178.47L1362.98 2177.49L1365.49 2175.07L1368.01 2174.59L1370.53 2174.62L1373.05 2175.44L1375.57 2176.93L1378.09 2175.2L1380.61 2173.9L1383.13 2172.23L1385.64 2171.99L1388.16 2173.15L1390.68 2173.79L1393.2 2172.89L1395.72 2172.45L1398.24 2172.86L1400.76 2172.58L1403.28 2171.32L1405.79 2170.94L1408.31 2170.45L1410.83 2170.22L1413.35 2169.06L1415.87 2167.93L1418.39 2167.83L1420.91 2166.9L1423.43 2167.25L1425.94 2166.1L1428.46 2165.17L1430.98 2165.95L1433.5 2165.53L1436.02 2163.78L1438.54 2163.35L1441.06 2163.13L1443.58 2162.25L1446.1 2161.67L1448.61 2161.77L1451.13 2161.38L1453.65 2159.96L1456.17 2160.23L1458.69 2158.84L1461.21 2159.64L1463.83 2158.9L1466.45 2158.26L1469.07 2158.12L1471.69 2157.13L1474.31 2156.7L1477.58 2158.01L1480.85 2159.03L1482.76 2158.3L1484.67 2155.9L1486.58 2152.24L1488.49 2149.62L1490.4 2147.62L1492.31 2146.64L1494.48 2148.04L1496.64 2150.59L1498.8 2152.89L1500.96 2154.74L1503.12 2156.63L1504.71 2155.98L1506.3 2153.66L1507.89 2150.61L1509.48 2148.14L1511.07 2145.28L1512.66 2143.46L1514.25 2142.99L1515.3 2143.27L1516.35 2146.05L1517.4 2149.14L1518.44 2151.48L1519.49 2155.57L1520.04 2157.51L1520.58 2160.81L1521.13 2165.38L1521.67 2167.89L1522.22 2171.43L1522.77 2171.49L1526.7 2172.84L1527.22 2171.29L1527.74 2168.14L1528.27 2165.72L1528.79 2161.51L1529.31 2158.59" stroke="#424242" stroke-width="1.25"/>
<path d="M327.23 2482.81L329.9 2481.86L332.56 2481.2L335.23 2480.99L337.89 2480.78L340.56 2479.82L343.22 2479.49L345.77 2479L348.31 2478.09L350.85 2476.89L353.39 2475.94L355.94 2475.06L358.48 2474.56L361.02 2474.07L363.56 2473.53L366.11 2472.99L368.65 2472.4L371.19 2471.02L373.73 2470.55L376.28 2470.17L378.82 2469.67L381.36 2469.27L383.9 2468.41L386.45 2467.46L388.99 2466.63L391.53 2466.12L394.07 2465L396.62 2464.11L399.16 2463.52L401.7 2462.31L404.24 2462.45L406.79 2461.92L409.33 2461.54L411.87 2459.74L414.41 2459.13L416.96 2458.43L419.5 2458.52L422.04 2457.8L424.58 2456.46L427.13 2455.54L429.67 2455.18L432.07 2455.21L434.47 2454.31L436.87 2453.23L439.27 2452.57L441.67 2451.43L444.08 2451.01L446.48 2450.15L448.88 2448.82L451.28 2448.19L453.68 2447.86L456.08 2446.69L458.48 2446.18L460.88 2445.66L463.29 2444.81L465.69 2444.46L468.09 2443.36L470.49 2442.97L472.89 2441.86L475.43 2441.26L477.98 2440.4L480.52 2440.04L483.06 2439.75L485.6 2439.63L488.15 2438.86L490.69 2437.46L493.23 2436.95L495.77 2436.69L498.32 2436.14L500.86 2435.35L503.4 2433.71L505.94 2433.23L508.49 2433.69L511.03 2432.8L513.57 2432.08L516.11 2430.72L518.66 2430.25L521.2 2430.06L523.74 2429.65L526.28 2428.25L528.83 2427.43L531.37 2427L533.91 2426.59L536.45 2425.99L539 2424.82L541.54 2424.31L544.08 2423.62L546.62 2423.36L549.17 2422.62L551.71 2422.14L554.25 2421.57L556.79 2421.5L559.34 2421.07L561.88 2419.77L564.42 2419.28L566.96 2418.66L569.51 2418.56L572.05 2418.37L574.59 2417.42L577.13 2416.99L579.68 2415.64L582.22 2415.14L584.76 2414.52L587.3 2414.74L589.85 2414.17L592.39 2412.93L594.93 2412.19L597.47 2410.93L600.02 2410.7L602.56 2409.57L605.1 2409.1L607.64 2409.03L610.19 2408.82L612.73 2408.84L615.27 2407.61L617.81 2407.08L620.36 2406.57L622.9 2405.76L625.44 2405.05L627.98 2404.53L630.53 2403.8L633.07 2402.7L635.61 2401.76L638.15 2401.11L640.7 2400.44L643.24 2399.81L645.78 2400.14L648.32 2399.81L650.87 2398.91L653.41 2398.41L655.95 2397.73L658.49 2397.12L661.04 2396.76L663.58 2396.45L666.12 2396.26L668.66 2395.57L671.21 2394.46L673.75 2393.83L676.29 2393.13L678.83 2392.95L681.38 2392.63L683.92 2392.02L686.46 2391.53L689 2391.34L691.55 2390.24L694.09 2389.77L696.63 2388.48L699.17 2388.71L701.72 2388.68L704.26 2388.41L706.8 2387.71L709.34 2387.07L711.89 2386.15L714.43 2385.95L716.97 2384.69L719.51 2383.58L722.06 2383.25L724.6 2383.19L727.14 2382.24L729.68 2382.17L732.23 2382.06L734.77 2381.43L737.31 2380.8L739.85 2379.72L742.4 2379.03L744.94 2378.49L747.48 2378.45L750.02 2378.3L752.57 2377.98L755.11 2378.1L757.65 2377.18L760.19 2376.67L762.74 2375.97L765.28 2375.35L767.82 2374.43L770.36 2374.58L772.91 2374.4L775.45 2374.17L777.99 2373.32L780.53 2373.02L783.08 2372.56L785.62 2371.88L788.16 2371.21L790.7 2370.33L793.25 2370.27L795.79 2370.52L798.33 2370.47L800.87 2369.8L803.42 2369.52L805.96 2368.62L808.5 2368.05L811.04 2367.53L813.59 2368.05L816.13 2367.85L818.67 2366.71L821.21 2366.27L823.76 2365.69L826.3 2365.73L828.84 2364.64L831.38 2364.38L833.93 2364.03L836.47 2363.14L839.01 2362.9L841.55 2361.96L844.1 2361.68L846.64 2361.84L849.18 2360.71L851.72 2360L854.27 2359.07L856.81 2358.08L859.35 2357.89L861.89 2357.75L864.44 2357.3L866.98 2357.01L869.52 2356.57L872.06 2356.4L874.61 2356.22L877.15 2355.35L879.69 2354.39L882.23 2353.51L884.78 2353.28L887.32 2352.4L889.86 2352.26L892.41 2352.65L894.95 2352.61L897.49 2351.53L900.03 2349.99L902.58 2350.15L905.12 2349.46L907.66 2349.11L910.2 2348.05L912.75 2347.96L915.29 2347.53L917.83 2346.62L920.37 2346.47L922.92 2346.42L925.46 2345.84L928 2344.7L930.54 2344.25L933.09 2343.93L935.63 2343.16L938.17 2343.18L940.71 2343.08L943.26 2342.55L945.8 2341.66L948.34 2341.08L951.26 2341.32L954.18 2340.94L957.09 2340.9L960.01 2341.02L962.78 2340.38L965.56 2339.09L968.33 2338.21L971.1 2337.78L973.88 2337.24L976.65 2336.6L979.43 2336.47L982 2335.84L984.58 2334.97L987.16 2334.97L989.74 2335.06L992.31 2334.67L994.89 2334.57L997.47 2333.99L1000.05 2332.74L1002.63 2332.8L1005.2 2332.32L1007.78 2332.14L1010.36 2331.89L1012.94 2331.22L1015.51 2331.32L1018.09 2330.93L1020.67 2330.55L1023.25 2330.23L1025.83 2330.04L1028.4 2329.16L1030.98 2328.09L1033.56 2327.91L1036.14 2327.41L1038.6 2327.2L1041.07 2327.55L1043.53 2327.61L1046 2326.82L1048.47 2325.45L1050.93 2324.79L1053.4 2324.8L1055.86 2324.21L1058.33 2323.79L1060.8 2323.43L1063.26 2322.66L1065.73 2322.82L1068.19 2322.16L1070.66 2322.04L1073.12 2321.19L1075.59 2320.84L1078.06 2320.91L1080.52 2320.09L1082.99 2320.13L1085.45 2319.79L1087.92 2319.59L1090.38 2318.25L1092.85 2317.9L1095.43 2317.86L1098.01 2318.46L1100.58 2318L1103.16 2317.39L1105.74 2316.64L1108.32 2315.62L1110.89 2314.95L1113.47 2314.42L1116.05 2314.53L1118.63 2314.3L1121.21 2314.54L1123.78 2313.65L1126.36 2313.34L1128.94 2313.09L1131.52 2313.15L1134.1 2312.52L1136.67 2312.33L1139.25 2311.72L1141.83 2311.22L1144.41 2310.64L1146.98 2310.09L1149.56 2310.37L1152.14 2309.68L1154.72 2309.18L1157.3 2308.5L1159.87 2308.52L1162.45 2308.41L1165.03 2308.26L1167.61 2307.62L1170.19 2307.3L1172.76 2307.26L1175.34 2306.85L1177.92 2306.46L1180.5 2305.5L1183.07 2304.87L1185.65 2304.64L1188.23 2303.69L1190.81 2304L1193.39 2303.62L1195.96 2303.05L1198.54 2302.65L1201.12 2302.53L1203.7 2301.89L1206.28 2301.44L1208.85 2301.98L1211.42 2302.29L1213.99 2301.95L1216.57 2301.2L1219.14 2300.96L1221.71 2300.65L1224.28 2300.66L1226.86 2300.31L1229.43 2300.79L1232 2300.51L1234.52 2299.94L1237.04 2299.65L1239.56 2299.37L1242.08 2299.35L1244.59 2298.42L1247.11 2298.01L1249.63 2297.66L1252.15 2297.33L1254.67 2297.07L1257.19 2296.37L1259.71 2296.47L1262.23 2296.46L1264.74 2296.46L1267.26 2296.23L1269.78 2296.15L1272.3 2295.75L1274.82 2295.2L1277.34 2294.56L1279.86 2294.27L1282.38 2293.28L1284.89 2293.14L1287.41 2293.43L1289.93 2293.54L1292.45 2293.04L1294.97 2291.96L1297.49 2291.8L1300.01 2291.12L1302.53 2290.55L1305.04 2290.84L1307.56 2290.85L1310.08 2290.29L1312.6 2289.9L1315.12 2289.37L1317.64 2288.53L1320.16 2287.98L1322.68 2288.08L1325.19 2288.24L1327.71 2288.18L1330.23 2288.11L1332.75 2287.86L1335.27 2286.94L1337.79 2285.94L1340.31 2286.36L1342.83 2286.28L1345.34 2285.99L1347.86 2284.89L1350.38 2284.58L1352.9 2284.16L1355.42 2283.7L1357.94 2283.75L1360.46 2283.23L1362.98 2283.25L1365.49 2282.56L1368.01 2281.93L1370.53 2281.71L1373.05 2281.38L1375.57 2281.39L1378.09 2281.53L1380.61 2281.13L1383.13 2280.15L1385.64 2279.71L1388.16 2279.12L1390.68 2278.73L1393.2 2278.52L1395.72 2277.75L1398.24 2277.47L1400.76 2277.47L1403.28 2278.01L1405.79 2277.84L1408.31 2277.85L1410.83 2277.53L1413.35 2277.09L1415.87 2277.05L1418.39 2275.89L1420.91 2275.36L1423.43 2275.02L1425.94 2275.48L1428.46 2275.43L1430.98 2274.87L1433.5 2275.04L1436.02 2274.42L1438.54 2273.37L1441.06 2273.15L1443.58 2273.15L1446.1 2272.9L1448.61 2273.1L1451.13 2272.63L1453.65 2271.98L1456.17 2271.79L1458.69 2271.19L1461.21 2271.3L1463.73 2271.04L1466.25 2270.28L1468.76 2270.23L1471.28 2269.15L1473.8 2268.61L1476.32 2268.13L1478.84 2268.06L1481.36 2267.99L1483.88 2267.1L1486.4 2266.96L1488.91 2266.1L1491.43 2266.2L1493.95 2266.39L1496.47 2265.8L1498.99 2265.2L1501.51 2264.42L1504.03 2263.71L1506.55 2263.3L1509.06 2263.54L1511.58 2263.78L1514.1 2263.42L1516.62 2262.76L1519.14 2262.4L1521.66 2262.24L1524.18 2261.84L1526.7 2261.75L1529.31 2261.47L1531.93 2261.14L1534.55 2260.69L1537.17 2260.53L1539.79 2260.75L1542.41 2260.55L1545.03 2260.36L1547.65 2260.04L1550.27 2259.08L1552.89 2258.31L1556.17 2257.5L1559.44 2257.48L1562.15 2257.5L1564.87 2256.61L1567.58 2257.16L1570.29 2257.34L1573 2256.73L1575.72 2256.14L1578.43 2256.16" stroke="#424242" stroke-width="1.25"/>
</g>
</svg>
</body>
</html>
